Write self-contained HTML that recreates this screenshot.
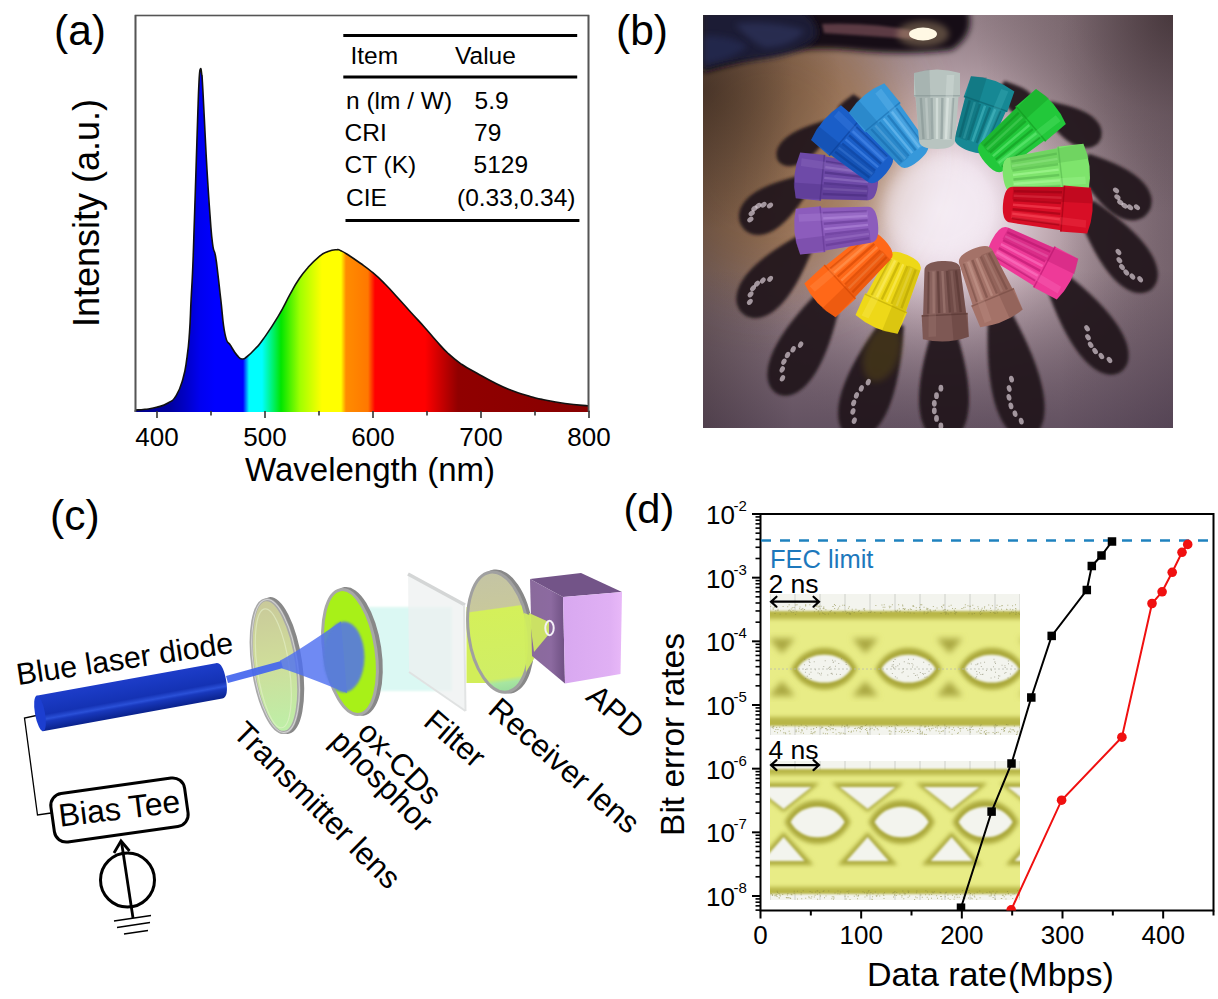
<!DOCTYPE html>
<html><head><meta charset="utf-8"><title>Figure</title>
<style>
html,body{margin:0;padding:0;background:#fff;}
body{width:1218px;height:999px;overflow:hidden;position:relative;font-family:"Liberation Sans",sans-serif;}
svg{position:absolute;left:0;top:0;display:block;}
</style></head><body>
<svg width="1218" height="999" viewBox="0 0 1218 999">

<!-- panel a -->
<defs><linearGradient id="spec" gradientUnits="userSpaceOnUse" x1="135.5" y1="0" x2="588.5" y2="0">
<stop offset="0.0000" stop-color="#00008c"/>
<stop offset="0.0762" stop-color="#0000a0"/>
<stop offset="0.1115" stop-color="#0000c8"/>
<stop offset="0.1424" stop-color="#0000f0"/>
<stop offset="0.1755" stop-color="#0000ff"/>
<stop offset="0.2373" stop-color="#0000ff"/>
<stop offset="0.2506" stop-color="#00ffff"/>
<stop offset="0.2792" stop-color="#00ffff"/>
<stop offset="0.3212" stop-color="#00e600"/>
<stop offset="0.3631" stop-color="#a0ff00"/>
<stop offset="0.4117" stop-color="#ffff00"/>
<stop offset="0.4536" stop-color="#ffff00"/>
<stop offset="0.4647" stop-color="#ff8c00"/>
<stop offset="0.5132" stop-color="#ff7800"/>
<stop offset="0.5287" stop-color="#ff0000"/>
<stop offset="0.6391" stop-color="#ff0000"/>
<stop offset="0.7119" stop-color="#900000"/>
<stop offset="1.0000" stop-color="#880000"/>
</linearGradient></defs>
<rect x="135.5" y="15.5" width="453" height="395.5" fill="none" stroke="#555" stroke-width="1.6"/>
<line x1="134.7" y1="411" x2="589.3" y2="411" stroke="#333" stroke-width="1.8"/>
<path d="M135.6 410 C138.1 409.8 139.4 410 145 409.3 C150.6 408.6 150.4 409 156.5 407.3 C162.6 405.6 162.7 406.2 168 403 C173.3 399.8 172.3 401.7 176.3 395.3 C180.3 388.9 180 389.1 182.9 379 C185.8 368.9 185.2 369.7 187 357.3 C188.8 344.9 188.4 347.9 189.5 332.5 C190.6 317.1 190.2 317.1 191.1 299.5 C192 281.9 191.9 287.7 192.8 266.5 C193.7 245.3 193.5 245.7 194.4 220 C195.3 194.3 195.1 196.7 196 170 C196.9 143.3 196.8 143.5 197.6 120 C198.4 96.5 198.3 95.6 199 82 C199.7 68.4 199.7 70.9 200.4 69 C201.1 67.1 201.3 71.5 201.8 75 C202.3 78.5 201.7 70 202.4 82 C203.1 94 203.2 96.5 204.4 120 C205.6 143.5 205.5 144.7 207 170 C208.5 195.3 208.5 195.3 210 215 C211.5 234.7 211.1 233.1 212.6 244 C214.1 254.9 214.1 247.7 215.5 256 C216.9 264.3 216.6 263.4 218 275 C219.4 286.6 218.9 283.7 220.8 299.5 C222.7 315.3 222.4 321.9 225 334.2 C227.6 346.5 227.4 340 230.7 345.7 C234 351.4 234.2 352.1 237.3 355.6 C240.4 359.1 239.7 358.8 242.3 359 C244.9 359.2 243.8 359.2 247.2 356.5 C250.6 353.8 250.7 353.7 255 349 C259.3 344.3 257.2 347.6 263.3 339 C269.4 330.4 270.9 328.6 278 316.7 C285.1 304.8 284.6 304.2 290 294.4 C295.4 284.6 293.6 287.2 298.4 280 C303.2 272.8 302.4 273.8 308 267.5 C313.6 261.2 314.1 260.6 319.4 256.3 C324.7 252 323.4 253.3 328 251.5 C332.6 249.7 333 249.9 336.5 249.7 C340 249.5 337.9 249.4 341 250.8 C344.1 252.2 343.2 251.7 348.3 255 C353.4 258.3 353.7 258.5 360 263 C366.3 267.5 365.3 266.4 372 272 C378.7 277.6 378 277 385 284 C392 291 391.3 290.7 398.2 298.3 C405.1 305.9 404 304.8 411 312.5 C418 320.2 417.8 319.7 424.5 327.2 C431.2 334.7 429.7 333.5 436 340.5 C442.3 347.5 441.3 347.1 448.2 353.5 C455.1 359.9 454.3 359.2 462 364.5 C469.7 369.8 468.5 368.4 477 373.2 C485.5 378 484.9 377.9 494 382.5 C503.1 387.1 502.4 386.8 511.2 390.3 C520 393.8 518.6 393 527 395.5 C535.4 398 532.6 397.4 542.7 399.5 C552.8 401.6 552.7 401.8 565 403.5 C577.3 405.2 582.4 405.3 588.7 406 L588.7 412 L135.6 412 Z" fill="url(#spec)"/>
<path d="M135.6 410 C138.1 409.8 139.4 410 145 409.3 C150.6 408.6 150.4 409 156.5 407.3 C162.6 405.6 162.7 406.2 168 403 C173.3 399.8 172.3 401.7 176.3 395.3 C180.3 388.9 180 389.1 182.9 379 C185.8 368.9 185.2 369.7 187 357.3 C188.8 344.9 188.4 347.9 189.5 332.5 C190.6 317.1 190.2 317.1 191.1 299.5 C192 281.9 191.9 287.7 192.8 266.5 C193.7 245.3 193.5 245.7 194.4 220 C195.3 194.3 195.1 196.7 196 170 C196.9 143.3 196.8 143.5 197.6 120 C198.4 96.5 198.3 95.6 199 82 C199.7 68.4 199.7 70.9 200.4 69 C201.1 67.1 201.3 71.5 201.8 75 C202.3 78.5 201.7 70 202.4 82 C203.1 94 203.2 96.5 204.4 120 C205.6 143.5 205.5 144.7 207 170 C208.5 195.3 208.5 195.3 210 215 C211.5 234.7 211.1 233.1 212.6 244 C214.1 254.9 214.1 247.7 215.5 256 C216.9 264.3 216.6 263.4 218 275 C219.4 286.6 218.9 283.7 220.8 299.5 C222.7 315.3 222.4 321.9 225 334.2 C227.6 346.5 227.4 340 230.7 345.7 C234 351.4 234.2 352.1 237.3 355.6 C240.4 359.1 239.7 358.8 242.3 359 C244.9 359.2 243.8 359.2 247.2 356.5 C250.6 353.8 250.7 353.7 255 349 C259.3 344.3 257.2 347.6 263.3 339 C269.4 330.4 270.9 328.6 278 316.7 C285.1 304.8 284.6 304.2 290 294.4 C295.4 284.6 293.6 287.2 298.4 280 C303.2 272.8 302.4 273.8 308 267.5 C313.6 261.2 314.1 260.6 319.4 256.3 C324.7 252 323.4 253.3 328 251.5 C332.6 249.7 333 249.9 336.5 249.7 C340 249.5 337.9 249.4 341 250.8 C344.1 252.2 343.2 251.7 348.3 255 C353.4 258.3 353.7 258.5 360 263 C366.3 267.5 365.3 266.4 372 272 C378.7 277.6 378 277 385 284 C392 291 391.3 290.7 398.2 298.3 C405.1 305.9 404 304.8 411 312.5 C418 320.2 417.8 319.7 424.5 327.2 C431.2 334.7 429.7 333.5 436 340.5 C442.3 347.5 441.3 347.1 448.2 353.5 C455.1 359.9 454.3 359.2 462 364.5 C469.7 369.8 468.5 368.4 477 373.2 C485.5 378 484.9 377.9 494 382.5 C503.1 387.1 502.4 386.8 511.2 390.3 C520 393.8 518.6 393 527 395.5 C535.4 398 532.6 397.4 542.7 399.5 C552.8 401.6 552.7 401.8 565 403.5 C577.3 405.2 582.4 405.3 588.7 406" fill="none" stroke="#111" stroke-width="1.6" stroke-linejoin="round"/>
<line x1="588.5" y1="15" x2="588.5" y2="412" stroke="#555" stroke-width="1.6"/>
<line x1="135.5" y1="15" x2="135.5" y2="412" stroke="#555" stroke-width="1.6"/>
<line x1="157" y1="411" x2="157" y2="418" stroke="#333" stroke-width="1.6"/>
<line x1="211" y1="411" x2="211" y2="415.5" stroke="#333" stroke-width="1.6"/>
<line x1="265" y1="411" x2="265" y2="418" stroke="#333" stroke-width="1.6"/>
<line x1="319" y1="411" x2="319" y2="415.5" stroke="#333" stroke-width="1.6"/>
<line x1="373" y1="411" x2="373" y2="418" stroke="#333" stroke-width="1.6"/>
<line x1="427" y1="411" x2="427" y2="415.5" stroke="#333" stroke-width="1.6"/>
<line x1="481" y1="411" x2="481" y2="418" stroke="#333" stroke-width="1.6"/>
<line x1="535" y1="411" x2="535" y2="415.5" stroke="#333" stroke-width="1.6"/>
<line x1="589" y1="411" x2="589" y2="418" stroke="#333" stroke-width="1.6"/>
<text x="157" y="446" font-size="26" text-anchor="middle" font-family="Liberation Sans, sans-serif" fill="#000">400</text>
<text x="265" y="446" font-size="26" text-anchor="middle" font-family="Liberation Sans, sans-serif" fill="#000">500</text>
<text x="373" y="446" font-size="26" text-anchor="middle" font-family="Liberation Sans, sans-serif" fill="#000">600</text>
<text x="481" y="446" font-size="26" text-anchor="middle" font-family="Liberation Sans, sans-serif" fill="#000">700</text>
<text x="589" y="446" font-size="26" text-anchor="middle" font-family="Liberation Sans, sans-serif" fill="#000">800</text>
<text x="245" y="481" font-size="33" font-family="Liberation Sans, sans-serif" fill="#000">Wavelength (nm)</text>
<text transform="translate(99 213) rotate(-90)" font-size="36" text-anchor="middle" font-family="Liberation Sans, sans-serif" fill="#000">Intensity (a.u.)</text>
<text x="54" y="45" font-size="42.5" font-family="Liberation Sans, sans-serif" fill="#000">(a)</text>
<line x1="343.3" y1="35.5" x2="577.2" y2="35.5" stroke="#000" stroke-width="3"/>
<line x1="343.3" y1="77" x2="577.2" y2="77" stroke="#000" stroke-width="3"/>
<line x1="345.5" y1="220.6" x2="579.4" y2="220.6" stroke="#000" stroke-width="3"/>
<text x="350.5" y="64.3" font-size="24.5" font-family="Liberation Sans, sans-serif" fill="#000">Item</text>
<text x="455" y="64.3" font-size="24.5" font-family="Liberation Sans, sans-serif" fill="#000">Value</text>
<text x="346" y="108.7" font-size="24.5" font-family="Liberation Sans, sans-serif" fill="#000">n (lm / W)</text>
<text x="474.5" y="108.7" font-size="24.5" font-family="Liberation Sans, sans-serif" fill="#000">5.9</text>
<text x="344.5" y="140.8" font-size="24.5" font-family="Liberation Sans, sans-serif" fill="#000">CRI</text>
<text x="474" y="140.8" font-size="24.5" font-family="Liberation Sans, sans-serif" fill="#000">79</text>
<text x="344.5" y="173" font-size="24.5" font-family="Liberation Sans, sans-serif" fill="#000">CT (K)</text>
<text x="473.5" y="173" font-size="24.5" font-family="Liberation Sans, sans-serif" fill="#000">5129</text>
<text x="346" y="205.8" font-size="24.5" font-family="Liberation Sans, sans-serif" fill="#000">CIE</text>
<text x="457" y="205.8" font-size="24.5" font-family="Liberation Sans, sans-serif" fill="#000">(0.33,0.34)</text>
<!-- panel b -->
<defs>
<clipPath id="photo"><rect x="703" y="15" width="470" height="413"/></clipPath>
<radialGradient id="plight" gradientUnits="userSpaceOnUse" cx="940" cy="210" r="240">
<stop offset="0" stop-color="#f6eef6" stop-opacity="1"/><stop offset="0.22" stop-color="#ecdee8" stop-opacity="1"/><stop offset="0.45" stop-color="#ccb6be" stop-opacity="0.85"/><stop offset="1" stop-color="#8e7a82" stop-opacity="0"/>
</radialGradient>
<linearGradient id="pleft" gradientUnits="userSpaceOnUse" x1="703" y1="0" x2="793" y2="0">
<stop offset="0" stop-color="#3a2c28" stop-opacity="0.4"/><stop offset="1" stop-color="#3a2c28" stop-opacity="0"/>
</linearGradient>
<radialGradient id="ptl" gradientUnits="userSpaceOnUse" cx="703" cy="90" r="140">
<stop offset="0" stop-color="#2a1c14" stop-opacity="0.55"/><stop offset="1" stop-color="#2a1c14" stop-opacity="0"/>
</radialGradient>
<radialGradient id="pcorner" gradientUnits="userSpaceOnUse" cx="1173" cy="15" r="200">
<stop offset="0" stop-color="#2a1c1e" stop-opacity="0.6"/><stop offset="0.5" stop-color="#2a1c1e" stop-opacity="0.2"/><stop offset="1" stop-color="#2a1c1e" stop-opacity="0"/>
</radialGradient>
<filter id="pb30" x="-50%" y="-50%" width="200%" height="200%"><feGaussianBlur stdDeviation="30"/></filter>
<linearGradient id="pwarm" gradientUnits="userSpaceOnUse" x1="703" y1="0" x2="900" y2="0">
<stop offset="0" stop-color="#8c6434" stop-opacity="0.9"/><stop offset="0.5" stop-color="#a47c4c" stop-opacity="0.55"/><stop offset="1" stop-color="#b08860" stop-opacity="0"/>
</linearGradient>
<linearGradient id="pwarmv" gradientUnits="userSpaceOnUse" x1="0" y1="60" x2="0" y2="428">
<stop offset="0" stop-color="#fff" stop-opacity="1"/><stop offset="0.55" stop-color="#fff" stop-opacity="0.55"/><stop offset="1" stop-color="#fff" stop-opacity="0"/>
</linearGradient>
<mask id="pwarmm"><rect x="703" y="15" width="470" height="413" fill="url(#pwarmv)"/></mask>
<linearGradient id="pcool" gradientUnits="userSpaceOnUse" x1="1060" y1="0" x2="1173" y2="0">
<stop offset="0" stop-color="#3c2c3a" stop-opacity="0"/><stop offset="1" stop-color="#3c2c3a" stop-opacity="0.3"/>
</linearGradient>
<linearGradient id="pbot" gradientUnits="userSpaceOnUse" x1="0" y1="270" x2="0" y2="428">
<stop offset="0" stop-color="#281a34" stop-opacity="0"/><stop offset="1" stop-color="#281a34" stop-opacity="0.42"/>
</linearGradient>
<linearGradient id="ptop" gradientUnits="userSpaceOnUse" x1="0" y1="15" x2="0" y2="130">
<stop offset="0" stop-color="#1e1418" stop-opacity="0.8"/><stop offset="1" stop-color="#1e1418" stop-opacity="0"/>
</linearGradient>
<filter id="pb3" x="-50%" y="-50%" width="200%" height="200%"><feGaussianBlur stdDeviation="3"/></filter>
<filter id="pb2" x="-50%" y="-50%" width="200%" height="200%"><feGaussianBlur stdDeviation="1.6"/></filter>
<filter id="pb8" x="-50%" y="-50%" width="200%" height="200%"><feGaussianBlur stdDeviation="8"/></filter>
<filter id="pb1" x="-50%" y="-50%" width="200%" height="200%"><feGaussianBlur stdDeviation="0.7"/></filter>
</defs>
<g clip-path="url(#photo)">
<rect x="703" y="15" width="470" height="413" fill="#8e7a82"/>
<rect x="703" y="15" width="470" height="413" fill="url(#plight)"/>
<ellipse cx="770" cy="150" rx="135" ry="140" fill="#94683a" opacity="0.7" filter="url(#pb30)"/>
<rect x="703" y="15" width="90" height="413" fill="url(#pleft)"/>
<rect x="703" y="15" width="470" height="413" fill="url(#ptl)"/>
<rect x="1060" y="15" width="113" height="413" fill="url(#pcool)"/>
<rect x="703" y="270" width="470" height="158" fill="url(#pbot)"/>
<rect x="703" y="15" width="470" height="413" fill="url(#pcorner)"/>
<path d="M703 10 L968 10 Q976 34 952 50 Q905 56 850 50 Q800 46 760 56 L703 72 Z" fill="#181012" filter="url(#pb3)"/>
<path d="M703 12 L805 12 Q822 26 815 40 Q795 56 750 60 Q722 64 703 70 Z" fill="#1a1c34" filter="url(#pb3)"/>
<path d="M735 24 Q770 20 805 30 Q795 46 765 48 Q748 40 735 24 Z" fill="#3a4478" opacity="0.4" filter="url(#pb3)"/>
<path d="M703 36 Q728 34 748 46 Q732 60 703 64 Z" fill="#2c3466" opacity="0.45" filter="url(#pb3)"/>
<path d="M822 24 Q870 22 916 31 L914 39 Q870 36 824 33 Z" fill="#7a5058" opacity="0.7" filter="url(#pb2)"/>
<ellipse cx="923" cy="34" rx="26" ry="13" fill="#d8b888" opacity="0.35" filter="url(#pb3)"/>
<ellipse cx="923" cy="34" rx="14" ry="6.5" fill="#fff8e4" filter="url(#pb1)"/>
<g transform="translate(855 100) rotate(33.0)"><path d="M-4.5 -4 C-7.0 3.578058132562969 -10.0 9.54148835350125 -10.0 14.789306947926939 C-10.0 21.468348795377814 -5.0 25.853720883753127 0 25.853720883753127 C5.0 25.853720883753127 10.0 21.468348795377814 10.0 14.789306947926939 C10.0 9.54148835350125 7.0 3.578058132562969 4.5 -4 Z" fill="#22121a" opacity="0.94" filter="url(#pb2)"/></g>
<g transform="translate(1004 88) rotate(-49.8)"><path d="M-5.8500000000000005 -4 C-9.1 5.10881590977792 -13.0 13.623509092741124 -13.0 21.11643909374874 C-13.0 30.652895458667526 -6.5 36.058772731852805 0 36.058772731852805 C6.5 36.058772731852805 13.0 30.652895458667526 13.0 21.11643909374874 C13.0 13.623509092741124 9.1 5.10881590977792 5.8500000000000005 -4 Z" fill="#22121a" opacity="0.94" filter="url(#pb2)"/></g>
<g transform="translate(1050 110) rotate(-58.0)"><path d="M-7.65 -4 C-11.899999999999999 8.490583018850943 -17.0 22.64155471693585 -17.0 35.094409811250564 C-17.0 50.94349811310566 -8.5 58.60388679233962 0 58.60388679233962 C8.5 58.60388679233962 17.0 50.94349811310566 17.0 35.094409811250564 C17.0 22.64155471693585 11.899999999999999 8.490583018850943 7.65 -4 Z" fill="#22121a" opacity="0.94" filter="url(#pb2)"/></g>
<g transform="translate(826 128) rotate(55.2)"><path d="M-6.75 -4 C-10.5 8.40535543567314 -15.0 22.414281161795042 -15.0 34.742135800782314 C-15.0 50.43213261403884 -7.5 58.0357029044876 0 58.0357029044876 C7.5 58.0357029044876 15.0 50.43213261403884 15.0 34.742135800782314 C15.0 22.414281161795042 10.5 8.40535543567314 6.75 -4 Z" fill="#22121a" opacity="0.94" filter="url(#pb2)"/></g>
<g transform="translate(800 186) rotate(54.5)"><path d="M-9.450000000000001 -4 C-14.7 10.322790320451151 -21.0 27.527440854536408 -21.0 42.667533324531426 C-21.0 61.936741922706915 -10.5 70.81860213634101 0 70.81860213634101 C10.5 70.81860213634101 21.0 61.936741922706915 21.0 42.667533324531426 C21.0 27.527440854536408 14.7 10.322790320451151 9.450000000000001 -4 Z" fill="#22121a" opacity="0.94" filter="url(#pb2)"/><ellipse cx="-1.5" cy="35.8" rx="2.4" ry="3.4" fill="#d8ccd4" opacity="0.7"/><ellipse cx="-5.9" cy="40.6" rx="2.4" ry="3.4" fill="#d8ccd4" opacity="0.7"/><ellipse cx="-8.1" cy="45.4" rx="2.4" ry="3.4" fill="#d8ccd4" opacity="0.7"/><ellipse cx="-8.1" cy="50.2" rx="2.4" ry="3.4" fill="#d8ccd4" opacity="0.7"/><ellipse cx="-5.9" cy="55.1" rx="2.4" ry="3.4" fill="#d8ccd4" opacity="0.7"/><ellipse cx="-1.5" cy="59.9" rx="2.4" ry="3.4" fill="#d8ccd4" opacity="0.7"/></g>
<g transform="translate(802 246) rotate(41.3)"><path d="M-10.35 -4 C-16.099999999999998 13.179529581893277 -23.0 35.14541221838208 -23.0 54.475388938492216 C-23.0 79.07717749135966 -11.5 89.86353054595519 0 89.86353054595519 C11.5 89.86353054595519 23.0 79.07717749135966 23.0 54.475388938492216 C23.0 35.14541221838208 16.099999999999998 13.179529581893277 10.35 -4 Z" fill="#22121a" opacity="0.94" filter="url(#pb2)"/><ellipse cx="-2.3" cy="45.7" rx="2.4" ry="3.4" fill="#d8ccd4" opacity="0.7"/><ellipse cx="-6.7" cy="51.8" rx="2.4" ry="3.4" fill="#d8ccd4" opacity="0.7"/><ellipse cx="-8.9" cy="58.0" rx="2.4" ry="3.4" fill="#d8ccd4" opacity="0.7"/><ellipse cx="-8.9" cy="64.1" rx="2.4" ry="3.4" fill="#d8ccd4" opacity="0.7"/><ellipse cx="-6.7" cy="70.3" rx="2.4" ry="3.4" fill="#d8ccd4" opacity="0.7"/><ellipse cx="-2.3" cy="76.4" rx="2.4" ry="3.4" fill="#d8ccd4" opacity="0.7"/></g>
<g transform="translate(830 296) rotate(28.4)"><path d="M-10.8 -4 C-16.799999999999997 16.376812876747415 -24.0 43.67150100465978 -24.0 67.69082655722266 C-24.0 98.2608772604845 -12.0 111.17875251164945 0 111.17875251164945 C12.0 111.17875251164945 24.0 98.2608772604845 24.0 67.69082655722266 C24.0 43.67150100465978 16.799999999999997 16.376812876747415 10.8 -4 Z" fill="#22121a" opacity="0.94" filter="url(#pb2)"/><ellipse cx="-2.7" cy="56.8" rx="2.4" ry="3.4" fill="#d8ccd4" opacity="0.7"/><ellipse cx="-7.1" cy="64.4" rx="2.4" ry="3.4" fill="#d8ccd4" opacity="0.7"/><ellipse cx="-9.3" cy="72.1" rx="2.4" ry="3.4" fill="#d8ccd4" opacity="0.7"/><ellipse cx="-9.3" cy="79.7" rx="2.4" ry="3.4" fill="#d8ccd4" opacity="0.7"/><ellipse cx="-7.1" cy="87.3" rx="2.4" ry="3.4" fill="#d8ccd4" opacity="0.7"/><ellipse cx="-2.7" cy="95.0" rx="2.4" ry="3.4" fill="#d8ccd4" opacity="0.7"/></g>
<g transform="translate(892 326) rotate(20.0)"><path d="M-11.25 -4 C-17.5 17.55704986607944 -25.0 46.8187996428785 -25.0 72.56913944646168 C-25.0 105.34229919647663 -12.5 119.04699910719626 0 119.04699910719626 C12.5 119.04699910719626 25.0 105.34229919647663 25.0 72.56913944646168 C25.0 46.8187996428785 17.5 17.55704986607944 11.25 -4 Z" fill="#22121a" opacity="0.94" filter="url(#pb2)"/><ellipse cx="0" cy="29.261749776799064" rx="17.5" ry="29.261749776799064" fill="#6a5a10" opacity="0.35" filter="url(#pb3)"/><ellipse cx="-3.1" cy="60.9" rx="2.4" ry="3.4" fill="#d8ccd4" opacity="0.7"/><ellipse cx="-7.5" cy="69.1" rx="2.4" ry="3.4" fill="#d8ccd4" opacity="0.7"/><ellipse cx="-9.7" cy="77.3" rx="2.4" ry="3.4" fill="#d8ccd4" opacity="0.7"/><ellipse cx="-9.7" cy="85.4" rx="2.4" ry="3.4" fill="#d8ccd4" opacity="0.7"/><ellipse cx="-7.5" cy="93.6" rx="2.4" ry="3.4" fill="#d8ccd4" opacity="0.7"/><ellipse cx="-3.1" cy="101.8" rx="2.4" ry="3.4" fill="#d8ccd4" opacity="0.7"/></g>
<g transform="translate(944 332) rotate(0.0)"><path d="M-11.25 -4 C-17.5 16.2 -25.0 43.2 -25.0 66.96 C-25.0 97.2 -12.5 110.0 0 110.0 C12.5 110.0 25.0 97.2 25.0 66.96 C25.0 43.2 17.5 16.2 11.25 -4 Z" fill="#22121a" opacity="0.94" filter="url(#pb2)"/><ellipse cx="-3.1" cy="56.2" rx="2.4" ry="3.4" fill="#d8ccd4" opacity="0.7"/><ellipse cx="-7.5" cy="63.7" rx="2.4" ry="3.4" fill="#d8ccd4" opacity="0.7"/><ellipse cx="-9.7" cy="71.3" rx="2.4" ry="3.4" fill="#d8ccd4" opacity="0.7"/><ellipse cx="-9.7" cy="78.8" rx="2.4" ry="3.4" fill="#d8ccd4" opacity="0.7"/><ellipse cx="-7.5" cy="86.4" rx="2.4" ry="3.4" fill="#d8ccd4" opacity="0.7"/><ellipse cx="-3.1" cy="94.0" rx="2.4" ry="3.4" fill="#d8ccd4" opacity="0.7"/></g>
<g transform="translate(1000 316) rotate(-13.1)"><path d="M-11.25 -4 C-17.5 18.483506160899235 -25.0 49.28934976239796 -25.0 76.39849213171684 C-25.0 110.90103696539542 -12.5 125.2233744059949 0 125.2233744059949 C12.5 125.2233744059949 25.0 110.90103696539542 25.0 76.39849213171684 C25.0 49.28934976239796 17.5 18.483506160899235 11.25 -4 Z" fill="#22121a" opacity="0.94" filter="url(#pb2)"/><ellipse cx="-3.1" cy="64.1" rx="2.4" ry="3.4" fill="#d8ccd4" opacity="0.7"/><ellipse cx="-7.5" cy="72.7" rx="2.4" ry="3.4" fill="#d8ccd4" opacity="0.7"/><ellipse cx="-9.7" cy="81.3" rx="2.4" ry="3.4" fill="#d8ccd4" opacity="0.7"/><ellipse cx="-9.7" cy="90.0" rx="2.4" ry="3.4" fill="#d8ccd4" opacity="0.7"/><ellipse cx="-7.5" cy="98.6" rx="2.4" ry="3.4" fill="#d8ccd4" opacity="0.7"/><ellipse cx="-3.1" cy="107.2" rx="2.4" ry="3.4" fill="#d8ccd4" opacity="0.7"/></g>
<g transform="translate(1056 280) rotate(-35.4)"><path d="M-10.8 -4 C-16.799999999999997 16.565325230734228 -24.0 44.17420061529128 -24.0 68.47001095370148 C-24.0 99.39195138440536 -12.0 112.43550153822818 0 112.43550153822818 C12.0 112.43550153822818 24.0 99.39195138440536 24.0 68.47001095370148 C24.0 44.17420061529128 16.799999999999997 16.565325230734228 10.8 -4 Z" fill="#22121a" opacity="0.94" filter="url(#pb2)"/><ellipse cx="-2.7" cy="57.4" rx="2.4" ry="3.4" fill="#d8ccd4" opacity="0.7"/><ellipse cx="-7.1" cy="65.2" rx="2.4" ry="3.4" fill="#d8ccd4" opacity="0.7"/><ellipse cx="-9.3" cy="72.9" rx="2.4" ry="3.4" fill="#d8ccd4" opacity="0.7"/><ellipse cx="-9.3" cy="80.6" rx="2.4" ry="3.4" fill="#d8ccd4" opacity="0.7"/><ellipse cx="-7.1" cy="88.3" rx="2.4" ry="3.4" fill="#d8ccd4" opacity="0.7"/><ellipse cx="-2.7" cy="96.1" rx="2.4" ry="3.4" fill="#d8ccd4" opacity="0.7"/></g>
<g transform="translate(1088 210) rotate(-38.5)"><path d="M-10.35 -4 C-16.099999999999998 14.94590244849738 -23.0 39.85573986265968 -23.0 61.77639678712251 C-23.0 89.67541469098428 -11.5 101.6393496566492 0 101.6393496566492 C11.5 101.6393496566492 23.0 89.67541469098428 23.0 61.77639678712251 C23.0 39.85573986265968 16.099999999999998 14.94590244849738 10.35 -4 Z" fill="#22121a" opacity="0.94" filter="url(#pb2)"/><ellipse cx="-2.3" cy="51.8" rx="2.4" ry="3.4" fill="#d8ccd4" opacity="0.7"/><ellipse cx="-6.7" cy="58.8" rx="2.4" ry="3.4" fill="#d8ccd4" opacity="0.7"/><ellipse cx="-8.9" cy="65.8" rx="2.4" ry="3.4" fill="#d8ccd4" opacity="0.7"/><ellipse cx="-8.9" cy="72.7" rx="2.4" ry="3.4" fill="#d8ccd4" opacity="0.7"/><ellipse cx="-6.7" cy="79.7" rx="2.4" ry="3.4" fill="#d8ccd4" opacity="0.7"/><ellipse cx="-2.3" cy="86.7" rx="2.4" ry="3.4" fill="#d8ccd4" opacity="0.7"/></g>
<g transform="translate(1086 164) rotate(-51.3)"><path d="M-9.9 -4 C-15.399999999999999 11.525623627379128 -22.0 30.734996339677675 -22.0 47.639244326500396 C-22.0 69.15374176427477 -11.0 78.83749084919418 0 78.83749084919418 C11.0 78.83749084919418 22.0 69.15374176427477 22.0 47.639244326500396 C22.0 30.734996339677675 15.399999999999999 11.525623627379128 9.9 -4 Z" fill="#22121a" opacity="0.94" filter="url(#pb2)"/><ellipse cx="-1.9" cy="40.0" rx="2.4" ry="3.4" fill="#d8ccd4" opacity="0.7"/><ellipse cx="-6.3" cy="45.3" rx="2.4" ry="3.4" fill="#d8ccd4" opacity="0.7"/><ellipse cx="-8.5" cy="50.7" rx="2.4" ry="3.4" fill="#d8ccd4" opacity="0.7"/><ellipse cx="-8.5" cy="56.1" rx="2.4" ry="3.4" fill="#d8ccd4" opacity="0.7"/><ellipse cx="-6.3" cy="61.5" rx="2.4" ry="3.4" fill="#d8ccd4" opacity="0.7"/><ellipse cx="-1.9" cy="66.8" rx="2.4" ry="3.4" fill="#d8ccd4" opacity="0.7"/></g>
<ellipse cx="940" cy="208" rx="55" ry="50" fill="#f6eef6" opacity="0.55" filter="url(#pb8)"/>
<g transform="translate(969.5 150) rotate(-160.7)"><path d="M-18.0 8 Q-18.0 -1 0 -1 Q18.0 -1 18.0 8 L21.619999999999997 48.94802243196348 L-21.619999999999997 48.94802243196348 Z" fill="#168894"/><path d="M-13.5 9 L-16.2 46.9" stroke="#0a5a64" stroke-width="2.4" opacity="0.5"/><path d="M-9.0 9 L-10.8 46.9" stroke="#50c0c8" stroke-width="2.4" opacity="0.5"/><path d="M-4.5 9 L-5.4 46.9" stroke="#0a5a64" stroke-width="2.4" opacity="0.5"/><path d="M0.0 9 L0.0 46.9" stroke="#50c0c8" stroke-width="2.4" opacity="0.5"/><path d="M4.5 9 L5.4 46.9" stroke="#0a5a64" stroke-width="2.4" opacity="0.5"/><path d="M9.0 9 L10.8 46.9" stroke="#50c0c8" stroke-width="2.4" opacity="0.5"/><path d="M13.5 9 L16.2 46.9" stroke="#0a5a64" stroke-width="2.4" opacity="0.5"/><path d="M-23.0 47.94802243196348 L23.0 47.94802243196348 L23.0 70.16367035145981 Q0 77.16367035145981 -23.0 70.16367035145981 Z" fill="#168894"/><path d="M-23.0 48.94802243196348 L23.0 48.94802243196348" stroke="#0a5a64" stroke-width="1.5" opacity="0.5"/><path d="M5.3999999999999995 8 L7.566999999999998 74.16367035145981 L23.0 70.16367035145981 L18.0 8 Z" fill="#0a5a64" opacity="0.3"/><path d="M-13.5 8 L-17.296 68.16367035145981 L-9.729 68.16367035145981 L-6.3 8 Z" fill="#50c0c8" opacity="0.25"/></g>
<g transform="translate(986 162) rotate(-130.5)"><path d="M-18.0 8 Q-18.0 -1 0 -1 Q18.0 -1 18.0 8 L21.619999999999997 58.98790384477144 L-21.619999999999997 58.98790384477144 Z" fill="#22c83a"/><path d="M-13.5 9 L-16.2 57.0" stroke="#10901c" stroke-width="2.4" opacity="0.5"/><path d="M-9.0 9 L-10.8 57.0" stroke="#70f080" stroke-width="2.4" opacity="0.5"/><path d="M-4.5 9 L-5.4 57.0" stroke="#10901c" stroke-width="2.4" opacity="0.5"/><path d="M0.0 9 L0.0 57.0" stroke="#70f080" stroke-width="2.4" opacity="0.5"/><path d="M4.5 9 L5.4 57.0" stroke="#10901c" stroke-width="2.4" opacity="0.5"/><path d="M9.0 9 L10.8 57.0" stroke="#70f080" stroke-width="2.4" opacity="0.5"/><path d="M13.5 9 L16.2 57.0" stroke="#10901c" stroke-width="2.4" opacity="0.5"/><path d="M-23.0 57.98790384477144 L23.0 57.98790384477144 L23.0 85.37561188601732 Q0 92.37561188601732 -23.0 85.37561188601732 Z" fill="#22c83a"/><path d="M-23.0 58.98790384477144 L23.0 58.98790384477144" stroke="#10901c" stroke-width="1.5" opacity="0.5"/><path d="M5.3999999999999995 8 L7.566999999999998 89.37561188601732 L23.0 85.37561188601732 L18.0 8 Z" fill="#10901c" opacity="0.3"/><path d="M-13.5 8 L-17.296 83.37561188601732 L-9.729 83.37561188601732 L-6.3 8 Z" fill="#70f080" opacity="0.25"/></g>
<g transform="translate(1004 176) rotate(-96.6)"><path d="M-18.0 8 Q-18.0 -1 0 -1 Q18.0 -1 18.0 8 L21.619999999999997 57.14243256985128 L-21.619999999999997 57.14243256985128 Z" fill="#7ee46c"/><path d="M-13.5 9 L-16.2 55.1" stroke="#50b048" stroke-width="2.4" opacity="0.5"/><path d="M-9.0 9 L-10.8 55.1" stroke="#b0ffa0" stroke-width="2.4" opacity="0.5"/><path d="M-4.5 9 L-5.4 55.1" stroke="#50b048" stroke-width="2.4" opacity="0.5"/><path d="M0.0 9 L0.0 55.1" stroke="#b0ffa0" stroke-width="2.4" opacity="0.5"/><path d="M4.5 9 L5.4 55.1" stroke="#50b048" stroke-width="2.4" opacity="0.5"/><path d="M9.0 9 L10.8 55.1" stroke="#b0ffa0" stroke-width="2.4" opacity="0.5"/><path d="M13.5 9 L16.2 55.1" stroke="#50b048" stroke-width="2.4" opacity="0.5"/><path d="M-23.0 56.14243256985128 L23.0 56.14243256985128 L23.0 82.57944328765345 Q0 89.57944328765345 -23.0 82.57944328765345 Z" fill="#7ee46c"/><path d="M-23.0 57.14243256985128 L23.0 57.14243256985128" stroke="#50b048" stroke-width="1.5" opacity="0.5"/><path d="M5.3999999999999995 8 L7.566999999999998 86.57944328765345 L23.0 82.57944328765345 L18.0 8 Z" fill="#50b048" opacity="0.3"/><path d="M-13.5 8 L-17.296 80.57944328765345 L-9.729 80.57944328765345 L-6.3 8 Z" fill="#b0ffa0" opacity="0.25"/></g>
<g transform="translate(1004 204) rotate(-85.5)"><path d="M-18.0 8 Q-18.0 -1 0 -1 Q18.0 -1 18.0 8 L21.619999999999997 58.9214052785573 L-21.619999999999997 58.9214052785573 Z" fill="#d80e26"/><path d="M-13.5 9 L-16.2 56.9" stroke="#900010" stroke-width="2.4" opacity="0.5"/><path d="M-9.0 9 L-10.8 56.9" stroke="#ff5060" stroke-width="2.4" opacity="0.5"/><path d="M-4.5 9 L-5.4 56.9" stroke="#900010" stroke-width="2.4" opacity="0.5"/><path d="M0.0 9 L0.0 56.9" stroke="#ff5060" stroke-width="2.4" opacity="0.5"/><path d="M4.5 9 L5.4 56.9" stroke="#900010" stroke-width="2.4" opacity="0.5"/><path d="M9.0 9 L10.8 56.9" stroke="#ff5060" stroke-width="2.4" opacity="0.5"/><path d="M13.5 9 L16.2 56.9" stroke="#900010" stroke-width="2.4" opacity="0.5"/><path d="M-23.0 57.9214052785573 L23.0 57.9214052785573 L23.0 85.27485648266257 Q0 92.27485648266257 -23.0 85.27485648266257 Z" fill="#d80e26"/><path d="M-23.0 58.9214052785573 L23.0 58.9214052785573" stroke="#900010" stroke-width="1.5" opacity="0.5"/><path d="M5.3999999999999995 8 L7.566999999999998 89.27485648266257 L23.0 85.27485648266257 L18.0 8 Z" fill="#900010" opacity="0.3"/><path d="M-13.5 8 L-17.296 83.27485648266257 L-9.729 83.27485648266257 L-6.3 8 Z" fill="#ff5060" opacity="0.25"/></g>
<g transform="translate(993 240) rotate(-62.3)"><path d="M-18.0 8 Q-18.0 -1 0 -1 Q18.0 -1 18.0 8 L21.619999999999997 58.15869668415895 L-21.619999999999997 58.15869668415895 Z" fill="#ee3a98"/><path d="M-13.5 9 L-16.2 56.2" stroke="#b01068" stroke-width="2.4" opacity="0.5"/><path d="M-9.0 9 L-10.8 56.2" stroke="#ff80c8" stroke-width="2.4" opacity="0.5"/><path d="M-4.5 9 L-5.4 56.2" stroke="#b01068" stroke-width="2.4" opacity="0.5"/><path d="M0.0 9 L0.0 56.2" stroke="#ff80c8" stroke-width="2.4" opacity="0.5"/><path d="M4.5 9 L5.4 56.2" stroke="#b01068" stroke-width="2.4" opacity="0.5"/><path d="M9.0 9 L10.8 56.2" stroke="#ff80c8" stroke-width="2.4" opacity="0.5"/><path d="M13.5 9 L16.2 56.2" stroke="#b01068" stroke-width="2.4" opacity="0.5"/><path d="M-23.0 57.15869668415895 L23.0 57.15869668415895 L23.0 84.11923740024082 Q0 91.11923740024082 -23.0 84.11923740024082 Z" fill="#ee3a98"/><path d="M-23.0 58.15869668415895 L23.0 58.15869668415895" stroke="#b01068" stroke-width="1.5" opacity="0.5"/><path d="M5.3999999999999995 8 L7.566999999999998 88.11923740024082 L23.0 84.11923740024082 L18.0 8 Z" fill="#b01068" opacity="0.3"/><path d="M-13.5 8 L-17.296 82.11923740024082 L-9.729 82.11923740024082 L-6.3 8 Z" fill="#ff80c8" opacity="0.25"/></g>
<g transform="translate(973 250) rotate(-22.6)"><path d="M-18.0 8 Q-18.0 -1 0 -1 Q18.0 -1 18.0 8 L21.619999999999997 51.480000000000004 L-21.619999999999997 51.480000000000004 Z" fill="#a47268"/><path d="M-13.5 9 L-16.2 49.5" stroke="#70463e" stroke-width="2.4" opacity="0.5"/><path d="M-9.0 9 L-10.8 49.5" stroke="#c89c90" stroke-width="2.4" opacity="0.5"/><path d="M-4.5 9 L-5.4 49.5" stroke="#70463e" stroke-width="2.4" opacity="0.5"/><path d="M0.0 9 L0.0 49.5" stroke="#c89c90" stroke-width="2.4" opacity="0.5"/><path d="M4.5 9 L5.4 49.5" stroke="#70463e" stroke-width="2.4" opacity="0.5"/><path d="M9.0 9 L10.8 49.5" stroke="#c89c90" stroke-width="2.4" opacity="0.5"/><path d="M13.5 9 L16.2 49.5" stroke="#70463e" stroke-width="2.4" opacity="0.5"/><path d="M-23.0 50.480000000000004 L23.0 50.480000000000004 L23.0 74.0 Q0 81.0 -23.0 74.0 Z" fill="#a47268"/><path d="M-23.0 51.480000000000004 L23.0 51.480000000000004" stroke="#70463e" stroke-width="1.5" opacity="0.5"/><path d="M5.3999999999999995 8 L7.566999999999998 78.0 L23.0 74.0 L18.0 8 Z" fill="#70463e" opacity="0.3"/><path d="M-13.5 8 L-17.296 72.0 L-9.729 72.0 L-6.3 8 Z" fill="#c89c90" opacity="0.25"/></g>
<g transform="translate(942 262) rotate(-2.9)"><path d="M-18.0 8 Q-18.0 -1 0 -1 Q18.0 -1 18.0 8 L21.619999999999997 52.86595880148208 L-21.619999999999997 52.86595880148208 Z" fill="#7e5854"/><path d="M-13.5 9 L-16.2 50.9" stroke="#52322e" stroke-width="2.4" opacity="0.5"/><path d="M-9.0 9 L-10.8 50.9" stroke="#aa847c" stroke-width="2.4" opacity="0.5"/><path d="M-4.5 9 L-5.4 50.9" stroke="#52322e" stroke-width="2.4" opacity="0.5"/><path d="M0.0 9 L0.0 50.9" stroke="#aa847c" stroke-width="2.4" opacity="0.5"/><path d="M4.5 9 L5.4 50.9" stroke="#52322e" stroke-width="2.4" opacity="0.5"/><path d="M9.0 9 L10.8 50.9" stroke="#aa847c" stroke-width="2.4" opacity="0.5"/><path d="M13.5 9 L16.2 50.9" stroke="#52322e" stroke-width="2.4" opacity="0.5"/><path d="M-23.0 51.86595880148208 L23.0 51.86595880148208 L23.0 76.09993757800315 Q0 83.09993757800315 -23.0 76.09993757800315 Z" fill="#7e5854"/><path d="M-23.0 52.86595880148208 L23.0 52.86595880148208" stroke="#52322e" stroke-width="1.5" opacity="0.5"/><path d="M5.3999999999999995 8 L7.566999999999998 80.09993757800315 L23.0 76.09993757800315 L18.0 8 Z" fill="#52322e" opacity="0.3"/><path d="M-13.5 8 L-17.296 74.09993757800315 L-9.729 74.09993757800315 L-6.3 8 Z" fill="#aa847c" opacity="0.25"/></g>
<g transform="translate(907 256) rotate(24.0)"><path d="M-18.0 8 Q-18.0 -1 0 -1 Q18.0 -1 18.0 8 L21.619999999999997 52.00196919348343 L-21.619999999999997 52.00196919348343 Z" fill="#eed818"/><path d="M-13.5 9 L-16.2 50.0" stroke="#b09c00" stroke-width="2.4" opacity="0.5"/><path d="M-9.0 9 L-10.8 50.0" stroke="#fff070" stroke-width="2.4" opacity="0.5"/><path d="M-4.5 9 L-5.4 50.0" stroke="#b09c00" stroke-width="2.4" opacity="0.5"/><path d="M0.0 9 L0.0 50.0" stroke="#fff070" stroke-width="2.4" opacity="0.5"/><path d="M4.5 9 L5.4 50.0" stroke="#b09c00" stroke-width="2.4" opacity="0.5"/><path d="M9.0 9 L10.8 50.0" stroke="#fff070" stroke-width="2.4" opacity="0.5"/><path d="M13.5 9 L16.2 50.0" stroke="#b09c00" stroke-width="2.4" opacity="0.5"/><path d="M-23.0 51.00196919348343 L23.0 51.00196919348343 L23.0 74.79086241436883 Q0 81.79086241436883 -23.0 74.79086241436883 Z" fill="#eed818"/><path d="M-23.0 52.00196919348343 L23.0 52.00196919348343" stroke="#b09c00" stroke-width="1.5" opacity="0.5"/><path d="M5.3999999999999995 8 L7.566999999999998 78.79086241436883 L23.0 74.79086241436883 L18.0 8 Z" fill="#b09c00" opacity="0.3"/><path d="M-13.5 8 L-17.296 72.79086241436883 L-9.729 72.79086241436883 L-6.3 8 Z" fill="#fff070" opacity="0.25"/></g>
<g transform="translate(884 241) rotate(47.2)"><path d="M-18.0 8 Q-18.0 -1 0 -1 Q18.0 -1 18.0 8 L21.619999999999997 60.24827632389163 L-21.619999999999997 60.24827632389163 Z" fill="#ff6818"/><path d="M-13.5 9 L-16.2 58.2" stroke="#c84000" stroke-width="2.4" opacity="0.5"/><path d="M-9.0 9 L-10.8 58.2" stroke="#ffa060" stroke-width="2.4" opacity="0.5"/><path d="M-4.5 9 L-5.4 58.2" stroke="#c84000" stroke-width="2.4" opacity="0.5"/><path d="M0.0 9 L0.0 58.2" stroke="#ffa060" stroke-width="2.4" opacity="0.5"/><path d="M4.5 9 L5.4 58.2" stroke="#c84000" stroke-width="2.4" opacity="0.5"/><path d="M9.0 9 L10.8 58.2" stroke="#ffa060" stroke-width="2.4" opacity="0.5"/><path d="M13.5 9 L16.2 58.2" stroke="#c84000" stroke-width="2.4" opacity="0.5"/><path d="M-23.0 59.24827632389163 L23.0 59.24827632389163 L23.0 87.28526715741155 Q0 94.28526715741155 -23.0 87.28526715741155 Z" fill="#ff6818"/><path d="M-23.0 60.24827632389163 L23.0 60.24827632389163" stroke="#c84000" stroke-width="1.5" opacity="0.5"/><path d="M5.3999999999999995 8 L7.566999999999998 91.28526715741155 L23.0 87.28526715741155 L18.0 8 Z" fill="#c84000" opacity="0.3"/><path d="M-13.5 8 L-17.296 85.28526715741155 L-9.729 85.28526715741155 L-6.3 8 Z" fill="#ffa060" opacity="0.25"/></g>
<g transform="translate(877 224) rotate(84.5)"><path d="M-18.0 8 Q-18.0 -1 0 -1 Q18.0 -1 18.0 8 L21.619999999999997 55.033869571383036 L-21.619999999999997 55.033869571383036 Z" fill="#8c5cbc"/><path d="M-13.5 9 L-16.2 53.0" stroke="#603490" stroke-width="2.4" opacity="0.5"/><path d="M-9.0 9 L-10.8 53.0" stroke="#b890e0" stroke-width="2.4" opacity="0.5"/><path d="M-4.5 9 L-5.4 53.0" stroke="#603490" stroke-width="2.4" opacity="0.5"/><path d="M0.0 9 L0.0 53.0" stroke="#b890e0" stroke-width="2.4" opacity="0.5"/><path d="M4.5 9 L5.4 53.0" stroke="#603490" stroke-width="2.4" opacity="0.5"/><path d="M9.0 9 L10.8 53.0" stroke="#b890e0" stroke-width="2.4" opacity="0.5"/><path d="M13.5 9 L16.2 53.0" stroke="#603490" stroke-width="2.4" opacity="0.5"/><path d="M-23.0 54.033869571383036 L23.0 54.033869571383036 L23.0 79.38465086573187 Q0 86.38465086573187 -23.0 79.38465086573187 Z" fill="#8c5cbc"/><path d="M-23.0 55.033869571383036 L23.0 55.033869571383036" stroke="#603490" stroke-width="1.5" opacity="0.5"/><path d="M5.3999999999999995 8 L7.566999999999998 83.38465086573187 L23.0 79.38465086573187 L18.0 8 Z" fill="#603490" opacity="0.3"/><path d="M-13.5 8 L-17.296 77.38465086573187 L-9.729 77.38465086573187 L-6.3 8 Z" fill="#b890e0" opacity="0.25"/></g>
<g transform="translate(877 183) rotate(-264.5)"><path d="M-18.0 8 Q-18.0 -1 0 -1 Q18.0 -1 18.0 8 L21.619999999999997 55.033869571383036 L-21.619999999999997 55.033869571383036 Z" fill="#6e4aa8"/><path d="M-13.5 9 L-16.2 53.0" stroke="#44287a" stroke-width="2.4" opacity="0.5"/><path d="M-9.0 9 L-10.8 53.0" stroke="#9a7cc8" stroke-width="2.4" opacity="0.5"/><path d="M-4.5 9 L-5.4 53.0" stroke="#44287a" stroke-width="2.4" opacity="0.5"/><path d="M0.0 9 L0.0 53.0" stroke="#9a7cc8" stroke-width="2.4" opacity="0.5"/><path d="M4.5 9 L5.4 53.0" stroke="#44287a" stroke-width="2.4" opacity="0.5"/><path d="M9.0 9 L10.8 53.0" stroke="#9a7cc8" stroke-width="2.4" opacity="0.5"/><path d="M13.5 9 L16.2 53.0" stroke="#44287a" stroke-width="2.4" opacity="0.5"/><path d="M-23.0 54.033869571383036 L23.0 54.033869571383036 L23.0 79.38465086573187 Q0 86.38465086573187 -23.0 79.38465086573187 Z" fill="#6e4aa8"/><path d="M-23.0 55.033869571383036 L23.0 55.033869571383036" stroke="#44287a" stroke-width="1.5" opacity="0.5"/><path d="M5.3999999999999995 8 L7.566999999999998 83.38465086573187 L23.0 79.38465086573187 L18.0 8 Z" fill="#44287a" opacity="0.3"/><path d="M-13.5 8 L-17.296 77.38465086573187 L-9.729 77.38465086573187 L-6.3 8 Z" fill="#9a7cc8" opacity="0.25"/></g>
<g transform="translate(885 173) rotate(-229.5)"><path d="M-18.0 8 Q-18.0 -1 0 -1 Q18.0 -1 18.0 8 L21.619999999999997 53.83351001003 L-21.619999999999997 53.83351001003 Z" fill="#1a5ec8"/><path d="M-13.5 9 L-16.2 51.8" stroke="#0a3a90" stroke-width="2.4" opacity="0.5"/><path d="M-9.0 9 L-10.8 51.8" stroke="#5090f0" stroke-width="2.4" opacity="0.5"/><path d="M-4.5 9 L-5.4 51.8" stroke="#0a3a90" stroke-width="2.4" opacity="0.5"/><path d="M0.0 9 L0.0 51.8" stroke="#5090f0" stroke-width="2.4" opacity="0.5"/><path d="M4.5 9 L5.4 51.8" stroke="#0a3a90" stroke-width="2.4" opacity="0.5"/><path d="M9.0 9 L10.8 51.8" stroke="#5090f0" stroke-width="2.4" opacity="0.5"/><path d="M13.5 9 L16.2 51.8" stroke="#0a3a90" stroke-width="2.4" opacity="0.5"/><path d="M-23.0 52.83351001003 L23.0 52.83351001003 L23.0 77.5659242576212 Q0 84.5659242576212 -23.0 77.5659242576212 Z" fill="#1a5ec8"/><path d="M-23.0 53.83351001003 L23.0 53.83351001003" stroke="#0a3a90" stroke-width="1.5" opacity="0.5"/><path d="M5.3999999999999995 8 L7.566999999999998 81.5659242576212 L23.0 77.5659242576212 L18.0 8 Z" fill="#0a3a90" opacity="0.3"/><path d="M-13.5 8 L-17.296 75.5659242576212 L-9.729 75.5659242576212 L-6.3 8 Z" fill="#5090f0" opacity="0.25"/></g>
<g transform="translate(918 160) rotate(-219.7)"><path d="M-18.0 8 Q-18.0 -1 0 -1 Q18.0 -1 18.0 8 L21.619999999999997 55.77292891717271 L-21.619999999999997 55.77292891717271 Z" fill="#3698da"/><path d="M-13.5 9 L-16.2 53.8" stroke="#1466a8" stroke-width="2.4" opacity="0.5"/><path d="M-9.0 9 L-10.8 53.8" stroke="#80c8f8" stroke-width="2.4" opacity="0.5"/><path d="M-4.5 9 L-5.4 53.8" stroke="#1466a8" stroke-width="2.4" opacity="0.5"/><path d="M0.0 9 L0.0 53.8" stroke="#80c8f8" stroke-width="2.4" opacity="0.5"/><path d="M4.5 9 L5.4 53.8" stroke="#1466a8" stroke-width="2.4" opacity="0.5"/><path d="M9.0 9 L10.8 53.8" stroke="#80c8f8" stroke-width="2.4" opacity="0.5"/><path d="M13.5 9 L16.2 53.8" stroke="#1466a8" stroke-width="2.4" opacity="0.5"/><path d="M-23.0 54.77292891717271 L23.0 54.77292891717271 L23.0 80.50443775329198 Q0 87.50443775329198 -23.0 80.50443775329198 Z" fill="#3698da"/><path d="M-23.0 55.77292891717271 L23.0 55.77292891717271" stroke="#1466a8" stroke-width="1.5" opacity="0.5"/><path d="M5.3999999999999995 8 L7.566999999999998 84.50443775329198 L23.0 80.50443775329198 L18.0 8 Z" fill="#1466a8" opacity="0.3"/><path d="M-13.5 8 L-17.296 78.50443775329198 L-9.729 78.50443775329198 L-6.3 8 Z" fill="#80c8f8" opacity="0.25"/></g>
<g transform="translate(937 148) rotate(-180.0)"><path d="M-18.0 8 Q-18.0 -1 0 -1 Q18.0 -1 18.0 8 L21.619999999999997 52.14 L-21.619999999999997 52.14 Z" fill="#b8c4c0"/><path d="M-13.5 9 L-16.2 50.1" stroke="#809090" stroke-width="2.4" opacity="0.5"/><path d="M-9.0 9 L-10.8 50.1" stroke="#e8f0ec" stroke-width="2.4" opacity="0.5"/><path d="M-4.5 9 L-5.4 50.1" stroke="#809090" stroke-width="2.4" opacity="0.5"/><path d="M0.0 9 L0.0 50.1" stroke="#e8f0ec" stroke-width="2.4" opacity="0.5"/><path d="M4.5 9 L5.4 50.1" stroke="#809090" stroke-width="2.4" opacity="0.5"/><path d="M9.0 9 L10.8 50.1" stroke="#e8f0ec" stroke-width="2.4" opacity="0.5"/><path d="M13.5 9 L16.2 50.1" stroke="#809090" stroke-width="2.4" opacity="0.5"/><path d="M-23.0 51.14 L23.0 51.14 L23.0 75.0 Q0 82.0 -23.0 75.0 Z" fill="#b8c4c0"/><path d="M-23.0 52.14 L23.0 52.14" stroke="#809090" stroke-width="1.5" opacity="0.5"/><path d="M5.3999999999999995 8 L7.566999999999998 79.0 L23.0 75.0 L18.0 8 Z" fill="#809090" opacity="0.3"/><path d="M-13.5 8 L-17.296 73.0 L-9.729 73.0 L-6.3 8 Z" fill="#e8f0ec" opacity="0.25"/></g>
</g>
<text x="616" y="45" font-size="42.5" font-family="Liberation Sans, sans-serif" fill="#000">(b)</text>
<!-- panel c -->
<defs>
<linearGradient id="cylg" x1="0" y1="0" x2="0" y2="1">
<stop offset="0" stop-color="#1e3cc8"/><stop offset="0.15" stop-color="#1a3ac4"/><stop offset="0.55" stop-color="#1432b4"/><stop offset="0.68" stop-color="#2a50d8"/><stop offset="0.75" stop-color="#1838bc"/><stop offset="1" stop-color="#0a228c"/>
</linearGradient>
<linearGradient id="tlens" x1="0" y1="0" x2="0" y2="1">
<stop offset="0" stop-color="#c9c99a"/><stop offset="0.45" stop-color="#cfdc9a"/><stop offset="1" stop-color="#bdf0a8"/>
</linearGradient>
<linearGradient id="rlens" x1="0" y1="0" x2="0" y2="1">
<stop offset="0" stop-color="#c4c4a4"/><stop offset="0.3" stop-color="#c8c89c"/><stop offset="0.31" stop-color="#d4f05a"/><stop offset="0.88" stop-color="#d0ee66"/><stop offset="0.92" stop-color="#a8e6a0"/><stop offset="1" stop-color="#98dc9c"/>
</linearGradient>
<linearGradient id="apdl" x1="0" y1="0" x2="1" y2="0">
<stop offset="0" stop-color="#8a6a9c"/><stop offset="0.6" stop-color="#8c6aa0"/><stop offset="1" stop-color="#6e5082"/>
</linearGradient>
<linearGradient id="apdf" x1="0" y1="0" x2="1" y2="0">
<stop offset="0" stop-color="#d8a8f0"/><stop offset="0.8" stop-color="#e0b0f4"/><stop offset="1" stop-color="#e8b8f8"/>
</linearGradient>
<filter id="cb1" x="-30%" y="-30%" width="160%" height="160%"><feGaussianBlur stdDeviation="3"/></filter>
<filter id="cb2" x="-30%" y="-30%" width="160%" height="160%"><feGaussianBlur stdDeviation="1.2"/></filter>
</defs>
<rect x="0" y="560" width="660" height="190" fill="#f8f8f8" opacity="0.0"/>
<polyline points="41,714.5 24.5,718 37.5,815 51,813" fill="none" stroke="#000" stroke-width="1.3"/>
<g transform="rotate(-10.3 39.5 713.5)">
<path d="M39.5 695.5 L222 695.5 Q229 695.5 229 713.5 Q229 731.5 222 731.5 L39.5 731.5 Z" fill="url(#cylg)"/>
<ellipse cx="40" cy="713.5" rx="5" ry="18" fill="#1c3ed0"/>
</g>
<g transform="rotate(-8.2 275.5 666)">
<ellipse cx="279" cy="666" rx="23.5" ry="69" fill="#888"/>
<ellipse cx="275" cy="666" rx="22" ry="67" fill="url(#tlens)" stroke="#a8a8a8" stroke-width="3.2"/>
<ellipse cx="275.5" cy="666" rx="22" ry="67" fill="none" stroke="#e8e8e8" stroke-width="1" opacity="0.7"/>
<ellipse cx="273" cy="668" rx="16" ry="60" fill="none" stroke="#e6f2cc" stroke-width="1.2" opacity="0.6"/>
</g>
<line x1="227" y1="679.5" x2="282" y2="664.5" stroke="#4466ee" stroke-width="7.5" opacity="0.92"/>
<rect x="352" y="607" width="100" height="84" fill="#d8f8f2" opacity="0.9" filter="url(#cb2)"/>
<g transform="rotate(-8.5 350 652)">
<ellipse cx="354" cy="652" rx="27.5" ry="65" fill="#888"/>
<ellipse cx="350" cy="652" rx="26" ry="63" fill="#a8f018" stroke="#a8a8a8" stroke-width="3"/>
</g>
<path d="M280 660.5 Q292 655 341 621.5 L347 693 Q300 674 282 668.5 Z" fill="#4f70f0" opacity="0.82"/>
<ellipse cx="344" cy="657" rx="20.5" ry="35.5" fill="#5a7ed8" opacity="0.95" filter="url(#cb2)"/>
<path d="M408 574 L464 605 L465.5 711 L409 672 Z" fill="#eef0f0" opacity="0.75"/>
<path d="M408 574 L465 605" stroke="#d4d6d6" stroke-width="3.5"/>
<path d="M464 605 L465.5 711" stroke="#e2e4e4" stroke-width="2"/>
<path d="M409 672 L465.5 711" stroke="#e0e2e2" stroke-width="2"/>
<rect x="466.5" y="607" width="45" height="76" fill="#d2ee58"/>
<g transform="rotate(-7.9 499 632)">
<ellipse cx="502.5" cy="632" rx="31" ry="62.5" fill="#888"/>
<ellipse cx="498.5" cy="632" rx="30" ry="60.5" fill="url(#rlens)" stroke="#a0a0a0" stroke-width="3"/>
</g>
<path d="M524 613 L549 622 L549 634 L526 672 Z" fill="#d0ec60" opacity="0.95"/>
<path d="M530 579 L581 573 L622 592 L563 597 Z" fill="#735488"/>
<path d="M530 579 L563 597 L565 683.5 L532 656 Z" fill="url(#apdl)"/>
<path d="M563 597 L622 592 L620.5 674 L565 683.5 Z" fill="url(#apdf)"/>
<path d="M529 613 L549 622 L549 634 L534 652 Z" fill="#d0ec60" opacity="0.92"/>
<ellipse cx="549.5" cy="628" rx="4.2" ry="7.2" fill="none" stroke="#f4f0f8" stroke-width="2"/>
<text transform="translate(18 685) rotate(-8.5)" font-size="30.5" font-family="Liberation Sans, sans-serif" fill="#000">Blue laser diode</text>
<text transform="translate(231.6 734.4) rotate(45)" font-size="31" font-family="Liberation Sans, sans-serif" fill="#000">Transmitter lens</text>
<text transform="translate(355.9 733.7) rotate(45)" font-size="31" font-family="Liberation Sans, sans-serif" fill="#000">ox-CDs</text>
<text transform="translate(328.6 742.8) rotate(45)" font-size="31" font-family="Liberation Sans, sans-serif" fill="#000">phosphor</text>
<text transform="translate(422 724) rotate(41)" font-size="31" font-family="Liberation Sans, sans-serif" fill="#000">Filter</text>
<text transform="translate(486.5 712) rotate(41)" font-size="31" font-family="Liberation Sans, sans-serif" fill="#000">Receiver lens</text>
<text transform="translate(584.5 698.7) rotate(41)" font-size="31" font-family="Liberation Sans, sans-serif" fill="#000">APD</text>
<text x="50" y="529.5" font-size="42.5" font-family="Liberation Sans, sans-serif" fill="#000">(c)</text>
<g transform="rotate(-8 119.5 810)">
<rect x="52" y="785.5" width="135" height="49" rx="12" ry="12" fill="#fff" stroke="#000" stroke-width="3"/>
</g>
<text transform="translate(60 826.8) rotate(-7)" font-size="32" font-family="Liberation Sans, sans-serif" fill="#000">Bias Tee</text>
<circle cx="127.5" cy="880" r="27" fill="none" stroke="#000" stroke-width="3"/>
<path d="M133 918 L121.5 842" stroke="#000" stroke-width="2.8"/>
<path d="M114 853 L121 841 L129.5 851" fill="none" stroke="#000" stroke-width="2.8"/>
<path d="M114 921 L151 915.5 M117 927.5 L150 922.5 M124 934 L148 930.5" stroke="#000" stroke-width="1.6"/>
<!-- panel d -->
<defs>
<filter id="eb" x="-20%" y="-20%" width="140%" height="140%"><feGaussianBlur stdDeviation="2.2"/></filter>
<filter id="eb3" x="-40%" y="-40%" width="180%" height="180%"><feGaussianBlur stdDeviation="3.2"/></filter>
<filter id="eb2" x="-20%" y="-20%" width="140%" height="140%"><feGaussianBlur stdDeviation="1.2"/></filter>
<filter id="noise" x="0" y="0" width="100%" height="100%"><feTurbulence type="fractalNoise" baseFrequency="0.9" numOctaves="1" seed="4"/><feColorMatrix values="0 0 0 0 0.55  0 0 0 0 0.55  0 0 0 0 0.1  0 0 0 -2.2 1.25"/></filter>
<clipPath id="eye1c"><rect x="770" y="594" width="250" height="141"/></clipPath>
<clipPath id="eye2c"><rect x="770" y="761" width="250" height="139"/></clipPath>
<clipPath id="plotd"><rect x="760.5" y="514" width="453.0" height="396.5"/></clipPath>
</defs>
<g clip-path="url(#eye1c)">
<rect x="770" y="594" width="250" height="141" fill="#f3f4ee"/>
<line x1="770" y1="594" x2="770" y2="735" stroke="#c4c8c0" stroke-width="0.8"/>
<line x1="795" y1="594" x2="795" y2="735" stroke="#c4c8c0" stroke-width="0.8"/>
<line x1="820" y1="594" x2="820" y2="735" stroke="#c4c8c0" stroke-width="0.8"/>
<line x1="845" y1="594" x2="845" y2="735" stroke="#c4c8c0" stroke-width="0.8"/>
<line x1="870" y1="594" x2="870" y2="735" stroke="#c4c8c0" stroke-width="0.8"/>
<line x1="895" y1="594" x2="895" y2="735" stroke="#c4c8c0" stroke-width="0.8"/>
<line x1="920" y1="594" x2="920" y2="735" stroke="#c4c8c0" stroke-width="0.8"/>
<line x1="945" y1="594" x2="945" y2="735" stroke="#c4c8c0" stroke-width="0.8"/>
<line x1="970" y1="594" x2="970" y2="735" stroke="#c4c8c0" stroke-width="0.8"/>
<line x1="995" y1="594" x2="995" y2="735" stroke="#c4c8c0" stroke-width="0.8"/>
<line x1="1020" y1="594" x2="1020" y2="735" stroke="#c4c8c0" stroke-width="0.8"/>
<rect x="760" y="611" width="270" height="115" fill="#b8b646" filter="url(#eb2)"/>
<rect x="760" y="619" width="270" height="98" fill="#e8ec86" filter="url(#eb)"/>
<path d="M883.09 609.6h1v1h-1zM1001.05 608.66h1v1h-1zM896.96 609.87h1v1h-1zM816.17 609.12h1v1h-1zM927.47 611.93h1v1h-1zM793.53 607.03h1v1h-1zM792.67 612.1h1v1h-1zM943.36 604.42h1v1h-1zM1015.55 613.65h1v1h-1zM933.48 610.16h1v1h-1zM809.37 604.15h1v1h-1zM902.1 604.6h1v1h-1zM817.55 606.42h1v1h-1zM777.52 608.64h1v1h-1zM880.13 612.42h1v1h-1zM899.78 610.4h1v1h-1zM894.94 610.62h1v1h-1zM884.33 606.78h1v1h-1zM1019.41 613.96h1v1h-1zM980.05 611.08h1v1h-1zM848.82 606.3h1v1h-1zM842.26 604.7h1v1h-1zM961.57 608h1v1h-1zM981.65 607.87h1v1h-1zM1009.51 612.47h1v1h-1zM770.14 606.1h1v1h-1zM997.57 608.7h1v1h-1zM1015.09 607.97h1v1h-1zM788.26 610.29h1v1h-1zM964.63 606.7h1v1h-1zM791.79 607.33h1v1h-1zM1011.02 611.58h1v1h-1zM799.5 606.46h1v1h-1zM795.26 604.6h1v1h-1zM969.26 605.78h1v1h-1zM909.82 608.47h1v1h-1zM817.67 611.32h1v1h-1zM802.74 610.44h1v1h-1zM799.13 608.21h1v1h-1zM823.22 606.7h1v1h-1zM1012.73 612.03h1v1h-1zM846.04 612.85h1v1h-1zM822.68 607.94h1v1h-1zM983.59 610.42h1v1h-1zM795.08 613.89h1v1h-1zM823.31 606.58h1v1h-1zM963.17 607.29h1v1h-1zM844.08 604.73h1v1h-1zM792.53 609.83h1v1h-1zM830.75 610.01h1v1h-1zM862.93 608.53h1v1h-1zM1009.78 608.84h1v1h-1zM913.64 612.67h1v1h-1zM815.71 605.54h1v1h-1zM997.11 612.18h1v1h-1zM832.37 605.9h1v1h-1zM954.86 613.4h1v1h-1zM819.15 613.5h1v1h-1zM990.55 610.04h1v1h-1zM875.36 605.04h1v1h-1zM779.67 613.63h1v1h-1zM829.6 611.05h1v1h-1zM834.25 612.24h1v1h-1zM919.12 606.93h1v1h-1zM813.86 611.2h1v1h-1zM787.19 606.28h1v1h-1zM909.84 612.52h1v1h-1zM923.58 606.8h1v1h-1zM999.34 606.04h1v1h-1zM774.14 606.69h1v1h-1zM881.43 604.6h1v1h-1zM814.06 607.69h1v1h-1zM913.04 605.32h1v1h-1zM860.54 612.91h1v1h-1zM1015.12 610.57h1v1h-1zM942.81 609.84h1v1h-1zM805.09 604.35h1v1h-1zM774.47 613.1h1v1h-1zM945.24 613.63h1v1h-1zM775.31 610.36h1v1h-1zM890.56 611.3h1v1h-1zM849.73 613.99h1v1h-1zM788.82 609.46h1v1h-1zM954.25 613h1v1h-1zM954.27 611.04h1v1h-1zM968.32 613.15h1v1h-1zM857.96 610.85h1v1h-1zM995.21 612.71h1v1h-1zM874.29 611.91h1v1h-1zM985.87 609.73h1v1h-1zM926.24 607.82h1v1h-1zM915.67 610.09h1v1h-1zM790.05 610.39h1v1h-1zM1018.33 612.8h1v1h-1zM952.05 607.88h1v1h-1zM953.76 609.81h1v1h-1zM880.13 612.38h1v1h-1zM790.95 611.5h1v1h-1zM777.45 610.01h1v1h-1zM890.24 606.3h1v1h-1zM944.58 608.97h1v1h-1zM923.63 613.2h1v1h-1zM833.96 604.11h1v1h-1zM845.26 610.78h1v1h-1zM820.64 605.7h1v1h-1zM996.43 610.6h1v1h-1zM880.48 612.92h1v1h-1zM851.74 610.66h1v1h-1zM819.63 608.31h1v1h-1zM971.5 613.14h1v1h-1zM990.07 607.84h1v1h-1zM915.78 607.16h1v1h-1zM804.04 608.96h1v1h-1zM979.27 612.49h1v1h-1zM947.8 613.5h1v1h-1zM839.2 605.69h1v1h-1zM882.66 606.75h1v1h-1zM823.52 608.14h1v1h-1zM926.43 608.94h1v1h-1zM848.84 612.39h1v1h-1zM1015.51 608.52h1v1h-1zM788.67 604.31h1v1h-1zM988.21 604.41h1v1h-1zM947.16 609.71h1v1h-1zM847.26 611.92h1v1h-1zM774.78 605.36h1v1h-1zM883.71 604.25h1v1h-1zM977.42 606.37h1v1h-1zM805.22 604.47h1v1h-1zM927.3 608.46h1v1h-1zM927.49 610.55h1v1h-1zM971.85 613.58h1v1h-1zM941.12 605.99h1v1h-1zM888.79 605.79h1v1h-1zM772.69 608.72h1v1h-1zM948.54 605.79h1v1h-1zM838.09 607.46h1v1h-1zM944.33 609.2h1v1h-1zM923.61 611.56h1v1h-1zM868.38 611.92h1v1h-1zM996.56 604.87h1v1h-1zM1003.15 611.22h1v1h-1zM802.48 608.54h1v1h-1zM926.39 613.1h1v1h-1zM864.2 609.69h1v1h-1zM989.83 611.97h1v1h-1zM1006.06 608.64h1v1h-1zM932.83 606.05h1v1h-1zM950.48 612.18h1v1h-1zM930.4 611.18h1v1h-1zM823.32 613h1v1h-1zM1015.12 613.77h1v1h-1zM904.24 611.91h1v1h-1zM850.1 613.1h1v1h-1zM983.95 607.49h1v1h-1zM790.69 608.41h1v1h-1zM907.58 611.68h1v1h-1zM891.86 604.28h1v1h-1zM972.29 604.64h1v1h-1zM969.96 605.73h1v1h-1zM853.75 611.88h1v1h-1zM805.13 605.49h1v1h-1zM899.13 611.24h1v1h-1zM979.99 610.89h1v1h-1zM1006.44 608.93h1v1h-1zM1007.29 604.86h1v1h-1zM825.35 609.27h1v1h-1zM842.54 611.29h1v1h-1zM929.72 609.23h1v1h-1zM980.91 609.6h1v1h-1zM847.92 607.81h1v1h-1zM981.32 613.01h1v1h-1zM822.06 612.51h1v1h-1zM1012.11 609.24h1v1h-1zM913.25 606.01h1v1h-1zM903.98 609.03h1v1h-1zM921.31 604.28h1v1h-1zM1012.35 609.16h1v1h-1zM870.15 612.01h1v1h-1zM910.72 608.91h1v1h-1zM942.75 604.66h1v1h-1zM904.68 608.14h1v1h-1zM1009.22 613.23h1v1h-1zM837.3 608.73h1v1h-1zM801.74 608.34h1v1h-1zM973.93 613.01h1v1h-1zM889.13 607.17h1v1h-1zM817.86 610.18h1v1h-1zM1001.32 605.29h1v1h-1zM964.82 604.23h1v1h-1zM818.53 606.27h1v1h-1zM941.76 607.22h1v1h-1zM858.84 610.2h1v1h-1zM796.22 611.31h1v1h-1zM800.7 609.1h1v1h-1zM832.64 605.98h1v1h-1zM902.59 608.37h1v1h-1zM863.93 608.13h1v1h-1zM902.34 605.6h1v1h-1zM821.07 610.31h1v1h-1zM929.62 609.3h1v1h-1zM982.81 610.12h1v1h-1zM984.19 606.33h1v1h-1zM955.19 612.11h1v1h-1zM995.67 607.16h1v1h-1zM848.75 613.23h1v1h-1zM824.54 613.98h1v1h-1zM991.89 605.34h1v1h-1zM829.84 611.27h1v1h-1zM834.87 604.97h1v1h-1zM978.04 608.22h1v1h-1zM967.48 605.26h1v1h-1zM870.69 610.85h1v1h-1zM774.44 606.01h1v1h-1zM940.6 613.11h1v1h-1zM1012.09 605.15h1v1h-1zM896.42 611.58h1v1h-1zM895.7 610.86h1v1h-1zM817.25 604.71h1v1h-1zM796.54 604.37h1v1h-1zM907.92 609.15h1v1h-1zM912.19 605.47h1v1h-1zM816.13 606.04h1v1h-1zM980.05 613.9h1v1h-1zM1001.72 604.95h1v1h-1zM785.49 613.51h1v1h-1zM885.52 611.65h1v1h-1zM851.71 608.67h1v1h-1zM898.82 608.3h1v1h-1zM920.23 604.13h1v1h-1zM945.26 612.44h1v1h-1zM815.32 608.54h1v1h-1zM954.83 608.05h1v1h-1zM818.78 605.65h1v1h-1zM898.14 604.15h1v1h-1zM993.3 612.02h1v1h-1zM946.17 612.61h1v1h-1zM927.35 608.05h1v1h-1zM919.9 609.04h1v1h-1zM1015.67 612.05h1v1h-1zM834.57 613.11h1v1h-1zM956.11 611.78h1v1h-1zM973.66 608.06h1v1h-1zM994.14 612.8h1v1h-1zM943.7 611.67h1v1h-1zM961.31 608.06h1v1h-1zM950.66 604.71h1v1h-1zM855.43 608.69h1v1h-1zM772.65 607.56h1v1h-1zM929.68 610.24h1v1h-1zM828.03 613.45h1v1h-1zM936.52 607.38h1v1h-1zM934.94 609.7h1v1h-1zM903.27 607.9h1v1h-1zM1019.97 610.42h1v1h-1zM945.31 611.62h1v1h-1zM1015.02 604.23h1v1h-1zM923.85 611.39h1v1h-1zM834.16 608.02h1v1h-1zM782.61 605.95h1v1h-1z" fill="#8a8a40" opacity="0.6"/>
<path d="M888.64 730.57h1v1h-1zM936.6 725.43h1v1h-1zM772.72 727.75h1v1h-1zM838.51 732.1h1v1h-1zM942.65 730.01h1v1h-1zM909.55 730.61h1v1h-1zM806.33 728.4h1v1h-1zM810.57 733.06h1v1h-1zM784.71 732.19h1v1h-1zM788.65 730.87h1v1h-1zM854.25 728.05h1v1h-1zM980.6 724.19h1v1h-1zM785.2 733.15h1v1h-1zM897.23 724.91h1v1h-1zM1016.78 733.47h1v1h-1zM798.13 728.23h1v1h-1zM803.77 727.13h1v1h-1zM925.36 725.64h1v1h-1zM944.21 724.51h1v1h-1zM812.8 732.16h1v1h-1zM870.13 728.19h1v1h-1zM918.99 728.77h1v1h-1zM866.15 724.3h1v1h-1zM951.58 733.67h1v1h-1zM1014.08 730.64h1v1h-1zM859.09 727.63h1v1h-1zM942.53 730.74h1v1h-1zM798.46 726.35h1v1h-1zM860.83 729.11h1v1h-1zM972.53 729h1v1h-1zM777.04 732.23h1v1h-1zM877.54 729.19h1v1h-1zM825.54 728.27h1v1h-1zM867.06 731.72h1v1h-1zM795.65 729.5h1v1h-1zM814.51 730.96h1v1h-1zM779.21 726.77h1v1h-1zM856.04 730.37h1v1h-1zM783.01 728.59h1v1h-1zM822.2 726.82h1v1h-1zM889.07 733.59h1v1h-1zM890.26 733.56h1v1h-1zM811.89 733.24h1v1h-1zM861.05 725.89h1v1h-1zM957.13 733.12h1v1h-1zM771.67 726.68h1v1h-1zM962.67 727.42h1v1h-1zM830.4 724.09h1v1h-1zM780.01 730.19h1v1h-1zM1015.95 733.98h1v1h-1zM895.9 724.24h1v1h-1zM850.61 731.87h1v1h-1zM977.99 730.39h1v1h-1zM827.38 729.27h1v1h-1zM889.35 730.27h1v1h-1zM835.67 733.47h1v1h-1zM993.58 725.62h1v1h-1zM842.83 732.73h1v1h-1zM839.58 733.44h1v1h-1zM898.79 730.96h1v1h-1zM946.17 726.14h1v1h-1zM841.26 726.55h1v1h-1zM940.82 730.94h1v1h-1zM802.93 732.86h1v1h-1zM875.08 726.41h1v1h-1zM878.82 733.79h1v1h-1zM909.98 730.25h1v1h-1zM999.98 733.62h1v1h-1zM960.11 728.18h1v1h-1zM917.11 733.01h1v1h-1zM967.31 729.8h1v1h-1zM856.87 727.68h1v1h-1zM953.96 729.63h1v1h-1zM774.28 731.1h1v1h-1zM995.95 731.98h1v1h-1zM994.37 733.11h1v1h-1zM903.73 731.89h1v1h-1zM864.87 724.98h1v1h-1zM858.29 727.12h1v1h-1zM1003.51 730.89h1v1h-1zM905.4 730.22h1v1h-1zM801.18 729.34h1v1h-1zM945.15 727.94h1v1h-1zM831.44 728.07h1v1h-1zM850.9 730.85h1v1h-1zM805.45 724.91h1v1h-1zM848.12 730.96h1v1h-1zM959.91 730.59h1v1h-1zM1003.68 727.66h1v1h-1zM777.44 728.88h1v1h-1zM880.92 725.79h1v1h-1zM936.85 727.41h1v1h-1zM829.59 727.27h1v1h-1zM1005.95 724.08h1v1h-1zM860.08 726.8h1v1h-1zM820.33 728.32h1v1h-1zM825.09 733.19h1v1h-1zM895.26 730.98h1v1h-1zM810.59 728.65h1v1h-1zM921.63 732.43h1v1h-1zM832.47 728.6h1v1h-1zM983.7 732.32h1v1h-1zM826.88 729.38h1v1h-1zM960.32 727.95h1v1h-1zM938.35 730.63h1v1h-1zM1013.11 729.54h1v1h-1zM940.2 727.5h1v1h-1zM953.06 727.22h1v1h-1zM894.98 727.61h1v1h-1zM846.8 725.36h1v1h-1zM826.42 729.44h1v1h-1zM832.96 724.46h1v1h-1zM970.9 726.86h1v1h-1zM1004.03 729.99h1v1h-1zM867.27 732.73h1v1h-1zM994.31 727.21h1v1h-1zM801.46 730.41h1v1h-1zM980.67 730.09h1v1h-1zM966.08 728.12h1v1h-1zM924.45 726.63h1v1h-1zM871.73 727.8h1v1h-1zM866.16 728h1v1h-1zM971.8 725.7h1v1h-1zM821.27 726.55h1v1h-1zM1012.76 729.23h1v1h-1zM783.23 732.35h1v1h-1zM988.38 732.21h1v1h-1zM859.7 731.35h1v1h-1zM846.37 725.37h1v1h-1zM986.32 732.33h1v1h-1zM822.8 732.8h1v1h-1zM776.15 727.08h1v1h-1zM773.24 725.71h1v1h-1zM810.81 731.16h1v1h-1zM844.15 725.9h1v1h-1zM816.02 727.12h1v1h-1zM985.54 730.07h1v1h-1zM795.58 730.85h1v1h-1zM904.06 728.48h1v1h-1zM901.89 730.51h1v1h-1zM970.18 729.05h1v1h-1zM928.89 728.67h1v1h-1zM928.52 727.88h1v1h-1zM873.72 729.17h1v1h-1zM948.75 726.79h1v1h-1zM1001.22 728.92h1v1h-1zM983.88 730.9h1v1h-1zM1009.08 730.82h1v1h-1zM876.71 728.06h1v1h-1zM921.92 731.54h1v1h-1zM979.76 725.29h1v1h-1zM785.6 725.08h1v1h-1zM791.06 724.56h1v1h-1zM772.1 726.5h1v1h-1zM798.29 730.85h1v1h-1zM923.95 733.66h1v1h-1zM1010.13 731.47h1v1h-1zM1007.4 724.28h1v1h-1zM826.98 733.26h1v1h-1zM888.86 726.07h1v1h-1zM959.2 728.24h1v1h-1zM905.77 727.16h1v1h-1zM830.43 724.87h1v1h-1zM921.71 733.53h1v1h-1zM1016.68 731.65h1v1h-1zM1003.35 727.62h1v1h-1zM844.54 733.24h1v1h-1zM920.03 730.69h1v1h-1zM773.13 726.29h1v1h-1zM890.61 731.31h1v1h-1zM976.45 731.57h1v1h-1zM854.92 727.82h1v1h-1zM985.59 733.9h1v1h-1zM891.25 725.95h1v1h-1zM926.11 729.36h1v1h-1zM860.42 726.31h1v1h-1zM866.34 730.12h1v1h-1zM801.71 729.41h1v1h-1zM1008.08 731.45h1v1h-1zM833.03 728.18h1v1h-1zM795.58 731.37h1v1h-1zM927.97 725.73h1v1h-1zM907.02 729.96h1v1h-1zM914.3 727.78h1v1h-1zM847.46 727.55h1v1h-1zM1019.39 727.3h1v1h-1zM895.62 728.6h1v1h-1zM813.25 728h1v1h-1zM821.24 727.22h1v1h-1zM861.78 727.5h1v1h-1zM1004.49 726.97h1v1h-1zM853.1 730.58h1v1h-1zM869.31 729.16h1v1h-1zM931.89 724.74h1v1h-1zM937.89 725.01h1v1h-1zM832.56 732.1h1v1h-1zM1017.39 730.74h1v1h-1zM812.9 728.38h1v1h-1zM840.66 732.41h1v1h-1zM828.3 725.96h1v1h-1zM929.52 730.37h1v1h-1zM917.44 728.79h1v1h-1zM1009.77 728.58h1v1h-1zM1004.26 727.92h1v1h-1zM886.34 727.59h1v1h-1zM948.78 731.51h1v1h-1zM829.8 729.26h1v1h-1zM951.62 729.02h1v1h-1zM935.6 730.16h1v1h-1zM948.58 727.55h1v1h-1zM846.64 724.25h1v1h-1zM992.58 731.9h1v1h-1zM867.57 733.67h1v1h-1zM995.61 725.52h1v1h-1zM979.17 728.21h1v1h-1zM848.57 726.59h1v1h-1zM873.45 724.52h1v1h-1zM782.61 725.17h1v1h-1zM846.83 725.58h1v1h-1zM800.46 732.32h1v1h-1zM864.92 728.9h1v1h-1zM920.31 733.33h1v1h-1zM806.53 726.28h1v1h-1zM985.09 733.1h1v1h-1zM1002.95 729.28h1v1h-1zM861.76 725.89h1v1h-1zM997.66 731.65h1v1h-1zM907.91 731.91h1v1h-1zM835.18 729.34h1v1h-1zM996.63 725.09h1v1h-1zM924.34 725.85h1v1h-1zM979.44 732.39h1v1h-1zM931.02 728.36h1v1h-1zM775.38 728.94h1v1h-1zM859.8 728h1v1h-1zM789.42 733.2h1v1h-1zM900.5 729.62h1v1h-1zM980.58 732.96h1v1h-1zM907.42 729.44h1v1h-1zM981.76 727.73h1v1h-1zM995.1 724.24h1v1h-1zM969.03 729.28h1v1h-1zM925.6 733.9h1v1h-1zM824.97 728.07h1v1h-1zM969.9 731.47h1v1h-1zM901.06 731.77h1v1h-1zM939.31 732.69h1v1h-1zM932.54 727.63h1v1h-1zM841.7 724.82h1v1h-1zM800.83 724.43h1v1h-1zM1013.91 725.41h1v1h-1zM920.71 725.34h1v1h-1zM1011.55 729.33h1v1h-1zM814.26 732.27h1v1h-1zM985.03 733.78h1v1h-1zM825.84 728.03h1v1h-1zM935.19 726.83h1v1h-1zM912.33 731.01h1v1h-1zM957.89 732.24h1v1h-1zM957.73 726.85h1v1h-1z" fill="#8a8a40" opacity="0.6"/>
<path d="M769 638.5 L795 638.5 L782 653.5 Z" fill="#a8a640" filter="url(#eb3)"/>
<path d="M769 696 L795 696 L782 681 Z" fill="#a8a640" filter="url(#eb3)"/>
<path d="M852.3 638.5 L878.3 638.5 L865.3 653.5 Z" fill="#a8a640" filter="url(#eb3)"/>
<path d="M852.3 696 L878.3 696 L865.3 681 Z" fill="#a8a640" filter="url(#eb3)"/>
<path d="M936.5 638.5 L962.5 638.5 L949.5 653.5 Z" fill="#a8a640" filter="url(#eb3)"/>
<path d="M936.5 696 L962.5 696 L949.5 681 Z" fill="#a8a640" filter="url(#eb3)"/>
<path d="M1019 638.5 L1045 638.5 L1032 653.5 Z" fill="#a8a640" filter="url(#eb3)"/>
<path d="M1019 696 L1045 696 L1032 681 Z" fill="#a8a640" filter="url(#eb3)"/>
<path d="M791.3 668.7 C804.5 640.98 844.1 640.98 857.3 668.7 C844.1 696.42 804.5 696.42 791.3 668.7 Z" fill="#aaa83a" filter="url(#eb)"/>
<path d="M797.3 668.7 C808.1 650.22 840.5 650.22 851.3 668.7 C840.5 687.18 808.1 687.18 797.3 668.7 Z" fill="#f3f4ee" filter="url(#eb2)"/>
<path d="M830.67 673.1h1v1h-1zM808.81 665.01h1v1h-1zM808.66 658.95h1v1h-1zM839.75 674.05h1v1h-1zM805.21 668.93h1v1h-1zM832.06 659.74h1v1h-1zM835.99 673.83h1v1h-1zM838.26 663.01h1v1h-1zM820.46 674.55h1v1h-1zM817.5 672.48h1v1h-1zM831.82 673.64h1v1h-1zM806.79 675.78h1v1h-1zM814.88 669.19h1v1h-1zM810.56 678h1v1h-1zM808.79 673.82h1v1h-1zM829.62 666.36h1v1h-1zM820.96 672.73h1v1h-1zM832.88 661.39h1v1h-1zM829.17 667.08h1v1h-1zM834.95 665.86h1v1h-1zM809.37 661.95h1v1h-1zM831.3 672.7h1v1h-1zM805.09 677.91h1v1h-1zM840.98 658.35h1v1h-1zM808.72 660.83h1v1h-1zM810.48 671.78h1v1h-1zM828.14 667.82h1v1h-1zM845.61 661.64h1v1h-1zM804.17 658.67h1v1h-1zM803.93 664.33h1v1h-1zM827.25 674.58h1v1h-1zM813.76 661.14h1v1h-1zM824.73 660.23h1v1h-1zM829.48 669.04h1v1h-1zM804.9 671.82h1v1h-1zM845.72 664.02h1v1h-1zM823.24 666.05h1v1h-1zM819.03 673.25h1v1h-1zM832.72 661.92h1v1h-1zM834.65 660.53h1v1h-1z" fill="#8a8a70" opacity="0.6"/>
<path d="M875.5 668.7 C888.7 640.98 928.3 640.98 941.5 668.7 C928.3 696.42 888.7 696.42 875.5 668.7 Z" fill="#aaa83a" filter="url(#eb)"/>
<path d="M881.5 668.7 C892.3 650.22 924.7 650.22 935.5 668.7 C924.7 687.18 892.3 687.18 881.5 668.7 Z" fill="#f3f4ee" filter="url(#eb2)"/>
<path d="M914.95 674.89h1v1h-1zM894.62 658.9h1v1h-1zM928.49 670.8h1v1h-1zM917.94 677.32h1v1h-1zM926.45 676.38h1v1h-1zM893.05 664.32h1v1h-1zM896.63 677.46h1v1h-1zM892.94 666.66h1v1h-1zM903.8 661.2h1v1h-1zM894.86 676.35h1v1h-1zM913.44 672.98h1v1h-1zM899 663.44h1v1h-1zM924.57 673.09h1v1h-1zM916.73 674.4h1v1h-1zM897.29 665.28h1v1h-1zM891.74 664.49h1v1h-1zM893.05 661h1v1h-1zM907.6 675.85h1v1h-1zM908.94 663.25h1v1h-1zM902.74 671.28h1v1h-1zM891.84 673.01h1v1h-1zM922.96 673.63h1v1h-1zM912.86 658.64h1v1h-1zM895.37 666.18h1v1h-1zM902.81 668.16h1v1h-1zM901.55 672.18h1v1h-1zM929.04 659.09h1v1h-1zM893.44 667.83h1v1h-1zM916.61 666.4h1v1h-1zM891.53 666.01h1v1h-1zM912.49 664.57h1v1h-1zM912.06 666.45h1v1h-1zM911.46 663.05h1v1h-1zM923.2 661.77h1v1h-1zM919.83 672h1v1h-1zM928.6 664.13h1v1h-1zM907.52 662.75h1v1h-1zM922.25 672.9h1v1h-1zM908 658.7h1v1h-1zM924.48 676.81h1v1h-1z" fill="#8a8a70" opacity="0.6"/>
<path d="M958.7 668.7 C971.9 640.98 1011.5 640.98 1024.7 668.7 C1011.5 696.42 971.9 696.42 958.7 668.7 Z" fill="#aaa83a" filter="url(#eb)"/>
<path d="M964.7 668.7 C975.5 650.22 1007.9 650.22 1018.7 668.7 C1007.9 687.18 975.5 687.18 964.7 668.7 Z" fill="#f3f4ee" filter="url(#eb2)"/>
<path d="M976.18 671.11h1v1h-1zM982.44 673.74h1v1h-1zM1005.43 671.89h1v1h-1zM1004.68 667.12h1v1h-1zM1011.41 665.5h1v1h-1zM979.02 672.33h1v1h-1zM994.17 676.41h1v1h-1zM994.55 661.61h1v1h-1zM970.82 663.62h1v1h-1zM1008.03 663.27h1v1h-1zM1001.52 664.7h1v1h-1zM995.04 671.74h1v1h-1zM976.1 676.32h1v1h-1zM1004.45 665.17h1v1h-1zM999.24 675.49h1v1h-1zM990.58 677.58h1v1h-1zM995 662.98h1v1h-1zM977.34 663.29h1v1h-1zM997.9 677.8h1v1h-1zM1009.85 673.39h1v1h-1zM998.05 675.21h1v1h-1zM990.88 669.65h1v1h-1zM980.34 673.94h1v1h-1zM976.66 673.8h1v1h-1zM1004.24 672.87h1v1h-1zM970.44 676.5h1v1h-1zM975.19 677.61h1v1h-1zM993.46 658.69h1v1h-1zM975.37 664.14h1v1h-1zM990.73 669.36h1v1h-1zM980.84 666h1v1h-1zM994.11 661.46h1v1h-1zM993.04 666.28h1v1h-1zM1007.56 677.54h1v1h-1zM985.96 670.07h1v1h-1zM1007.85 660.46h1v1h-1zM980.17 662.54h1v1h-1zM976.85 663.75h1v1h-1zM984.06 661.66h1v1h-1zM981.96 673.98h1v1h-1z" fill="#8a8a70" opacity="0.6"/>
<line x1="770" y1="669" x2="1020" y2="669" stroke="#b8bcb0" stroke-width="0.8" stroke-dasharray="2 2"/>
</g>
<g clip-path="url(#eye2c)">
<rect x="770" y="761" width="250" height="139" fill="#f3f4ee"/>
<line x1="770" y1="761" x2="770" y2="900" stroke="#c4c8c0" stroke-width="0.8"/>
<line x1="795" y1="761" x2="795" y2="900" stroke="#c4c8c0" stroke-width="0.8"/>
<line x1="820" y1="761" x2="820" y2="900" stroke="#c4c8c0" stroke-width="0.8"/>
<line x1="845" y1="761" x2="845" y2="900" stroke="#c4c8c0" stroke-width="0.8"/>
<line x1="870" y1="761" x2="870" y2="900" stroke="#c4c8c0" stroke-width="0.8"/>
<line x1="895" y1="761" x2="895" y2="900" stroke="#c4c8c0" stroke-width="0.8"/>
<line x1="920" y1="761" x2="920" y2="900" stroke="#c4c8c0" stroke-width="0.8"/>
<line x1="945" y1="761" x2="945" y2="900" stroke="#c4c8c0" stroke-width="0.8"/>
<line x1="970" y1="761" x2="970" y2="900" stroke="#c4c8c0" stroke-width="0.8"/>
<line x1="995" y1="761" x2="995" y2="900" stroke="#c4c8c0" stroke-width="0.8"/>
<line x1="1020" y1="761" x2="1020" y2="900" stroke="#c4c8c0" stroke-width="0.8"/>
<rect x="760" y="769" width="270" height="125" fill="#b8b646" filter="url(#eb2)"/>
<rect x="760" y="775" width="270" height="112" fill="#e8ec86" filter="url(#eb)"/>
<path d="M811.24 896.21h1v1h-1zM928.75 894.31h1v1h-1zM824 897.13h1v1h-1zM971.96 894.61h1v1h-1zM896.27 892.12h1v1h-1zM770.8 893.34h1v1h-1zM916.34 890.62h1v1h-1zM968.44 892.09h1v1h-1zM828.17 890.38h1v1h-1zM1019.39 896.65h1v1h-1zM988.76 895.54h1v1h-1zM778.52 892.96h1v1h-1zM894.39 891.04h1v1h-1zM1007.99 893.32h1v1h-1zM808.7 897.36h1v1h-1zM801.22 898.35h1v1h-1zM883.28 894.97h1v1h-1zM855.73 894.36h1v1h-1zM816.73 890.33h1v1h-1zM986.47 892.11h1v1h-1zM965.06 891.88h1v1h-1zM1012.19 898.05h1v1h-1zM958.7 896.87h1v1h-1zM915.19 896.57h1v1h-1zM800.62 894.29h1v1h-1zM976.75 891.81h1v1h-1zM1000.79 897.99h1v1h-1zM872.4 893.29h1v1h-1zM882.83 893.47h1v1h-1zM1018.71 893.48h1v1h-1zM776.71 890.84h1v1h-1zM949.52 898.94h1v1h-1zM894 894.42h1v1h-1zM907.61 896.73h1v1h-1zM825.51 895.48h1v1h-1zM909.12 895.6h1v1h-1zM815.17 891.53h1v1h-1zM857.05 898.34h1v1h-1zM856.65 895.38h1v1h-1zM846.65 890.93h1v1h-1zM786.41 897.32h1v1h-1zM964.25 893.37h1v1h-1zM940.84 896.08h1v1h-1zM994.67 898.62h1v1h-1zM871.75 898.9h1v1h-1zM1010.36 895.31h1v1h-1zM990.79 894.42h1v1h-1zM863.89 892.22h1v1h-1zM989.04 891.46h1v1h-1zM787.33 897.25h1v1h-1zM963.48 894.35h1v1h-1zM979.25 890.47h1v1h-1zM834.49 892.61h1v1h-1zM874.89 891.54h1v1h-1zM787.36 893.04h1v1h-1zM994.79 898.85h1v1h-1zM956.46 894.31h1v1h-1zM833.05 898.63h1v1h-1zM901.41 896.56h1v1h-1zM777.07 891.91h1v1h-1zM979.57 897.16h1v1h-1zM990.36 895.41h1v1h-1zM876.52 895.23h1v1h-1zM982.34 892.77h1v1h-1zM903.58 892.48h1v1h-1zM962.06 890.09h1v1h-1zM941.32 898.59h1v1h-1zM775.88 895.34h1v1h-1zM930.96 897.67h1v1h-1zM916.09 892.31h1v1h-1zM871.4 898.63h1v1h-1zM996.4 891.2h1v1h-1zM793.71 890.85h1v1h-1zM776.33 894.02h1v1h-1zM805.21 897.81h1v1h-1zM933.83 891.14h1v1h-1zM904.66 892.92h1v1h-1zM893.47 891.98h1v1h-1zM811.52 891.66h1v1h-1zM864.45 896.39h1v1h-1zM907.51 890.42h1v1h-1zM947.72 897.86h1v1h-1zM963.56 897.12h1v1h-1zM771.96 894.17h1v1h-1zM785.87 896.88h1v1h-1zM813.82 896.4h1v1h-1zM833.23 896.27h1v1h-1zM848.4 890.38h1v1h-1zM867.22 892.78h1v1h-1zM995.19 892.66h1v1h-1zM895.78 894.94h1v1h-1zM1007.05 890.89h1v1h-1zM920.29 894.57h1v1h-1zM953.64 898.7h1v1h-1zM847.54 896.3h1v1h-1zM901.45 895.05h1v1h-1zM785.93 897.33h1v1h-1zM1014.21 893.2h1v1h-1zM849.52 898.94h1v1h-1zM796.9 890.68h1v1h-1zM788.33 897.33h1v1h-1zM959.98 894.03h1v1h-1zM925.35 890.18h1v1h-1zM931.16 893.98h1v1h-1zM899.36 893.5h1v1h-1zM870.38 892.03h1v1h-1zM782.2 893.91h1v1h-1zM831.76 896.34h1v1h-1zM974.32 896.51h1v1h-1zM884 892.13h1v1h-1zM866.35 894.38h1v1h-1zM927.96 898.67h1v1h-1zM791.35 894.32h1v1h-1zM892.97 896.45h1v1h-1zM992.62 897.02h1v1h-1zM926.7 896.83h1v1h-1zM937.01 897.73h1v1h-1zM944.76 896.15h1v1h-1zM831.33 898.25h1v1h-1zM866.49 895.53h1v1h-1zM976.21 898.67h1v1h-1zM1017.3 890.06h1v1h-1zM848.15 892.81h1v1h-1zM867.81 891.31h1v1h-1zM908.31 890.72h1v1h-1zM845.65 898.49h1v1h-1zM955.59 894.16h1v1h-1zM797.05 898.6h1v1h-1zM945.99 891.85h1v1h-1zM853.82 895.77h1v1h-1zM940.41 892.35h1v1h-1zM1007.81 892.9h1v1h-1zM833.56 897.61h1v1h-1zM808.35 896.13h1v1h-1zM819.97 895.38h1v1h-1zM839.35 893.41h1v1h-1zM1005.18 894.2h1v1h-1zM879.22 895.55h1v1h-1zM840.16 891.57h1v1h-1zM866.16 892.45h1v1h-1zM817.11 898.65h1v1h-1zM778.59 897.29h1v1h-1zM1003.69 896.34h1v1h-1zM774.75 894.51h1v1h-1zM779.82 895.47h1v1h-1zM945.1 892.16h1v1h-1zM771.9 894.9h1v1h-1zM793.63 892.78h1v1h-1zM883.53 898.05h1v1h-1zM862.51 891.21h1v1h-1zM967.93 897.4h1v1h-1zM902.35 890.44h1v1h-1zM816.89 893.63h1v1h-1zM907.97 892.03h1v1h-1zM970.59 897.59h1v1h-1zM1001.29 897.95h1v1h-1zM774.4 895.24h1v1h-1zM790.11 898.1h1v1h-1zM956.73 896.83h1v1h-1zM817.07 890.54h1v1h-1zM973.8 895.46h1v1h-1zM925.07 894.24h1v1h-1zM970.03 893.04h1v1h-1zM837.43 893.18h1v1h-1zM844.5 895.64h1v1h-1zM992.54 890.64h1v1h-1zM786.91 894.61h1v1h-1zM939.5 891.71h1v1h-1zM837.46 890.53h1v1h-1zM779.29 894.46h1v1h-1zM940.19 895.88h1v1h-1zM809.55 890.94h1v1h-1zM1002.72 894.85h1v1h-1zM872.1 896.22h1v1h-1zM951.95 894.72h1v1h-1zM789.58 897.45h1v1h-1zM823.43 890.36h1v1h-1zM858.07 894.79h1v1h-1zM927.06 891.57h1v1h-1zM947.41 894.44h1v1h-1zM810.5 897.66h1v1h-1zM971.68 898.16h1v1h-1zM939.87 891.96h1v1h-1zM964.42 898.12h1v1h-1zM903.31 898.18h1v1h-1zM1012.54 893.51h1v1h-1zM1005.46 898.43h1v1h-1zM968.47 890.1h1v1h-1zM857.98 895.52h1v1h-1zM921.8 896.8h1v1h-1zM931.71 891.45h1v1h-1zM1002.7 894.83h1v1h-1zM990.42 891.86h1v1h-1zM1019.52 894.99h1v1h-1zM963.89 896.66h1v1h-1zM990.7 893.26h1v1h-1zM790.7 893.65h1v1h-1zM814.57 894.86h1v1h-1zM973.74 893.26h1v1h-1zM802.76 890.24h1v1h-1zM875.74 895.22h1v1h-1zM776.57 895.99h1v1h-1zM822.72 890.96h1v1h-1zM1001.92 894.71h1v1h-1zM993.77 894.63h1v1h-1zM800.71 892.16h1v1h-1zM876.06 895.77h1v1h-1zM962.72 896.76h1v1h-1zM932.69 892.28h1v1h-1zM877.53 893.4h1v1h-1zM892.39 892.39h1v1h-1zM904.45 894.13h1v1h-1zM778.89 897.41h1v1h-1zM916.61 897.22h1v1h-1zM954.14 896.58h1v1h-1zM1018.36 893.39h1v1h-1zM868.4 890.03h1v1h-1zM936.09 895.23h1v1h-1zM914.11 898.98h1v1h-1zM819.23 892.05h1v1h-1z" fill="#8a8a40" opacity="0.6"/>
<path d="M700.6 822 C713.8 792.96 753.4 792.96 766.6 822 C753.4 851.04 713.8 851.04 700.6 822 Z" fill="#aaa83a" filter="url(#eb)"/>
<path d="M706.6 822 C717.4 801.54 749.8 801.54 760.6 822 C749.8 842.46 717.4 842.46 706.6 822 Z" fill="#f3f4ee" filter="url(#eb2)"/>
<path d="M747.6 783 L819.6 783 L783.6 812 Z" fill="#aaa83a" filter="url(#eb)"/>
<path d="M755.6 787 L811.6 787 L783.6 809 Z" fill="#f3f4ee" filter="url(#eb2)"/>
<path d="M753.6 865 L813.6 865 L783.6 832 Z" fill="#aaa83a" filter="url(#eb)"/>
<path d="M762.6 861 L804.6 861 L783.6 837 Z" fill="#f3f4ee" filter="url(#eb2)"/>
<path d="M784.6 822 C797.8 792.96 837.4 792.96 850.6 822 C837.4 851.04 797.8 851.04 784.6 822 Z" fill="#aaa83a" filter="url(#eb)"/>
<path d="M790.6 822 C801.4 801.54 833.8 801.54 844.6 822 C833.8 842.46 801.4 842.46 790.6 822 Z" fill="#f3f4ee" filter="url(#eb2)"/>
<path d="M831.6 783 L903.6 783 L867.6 812 Z" fill="#aaa83a" filter="url(#eb)"/>
<path d="M839.6 787 L895.6 787 L867.6 809 Z" fill="#f3f4ee" filter="url(#eb2)"/>
<path d="M837.6 865 L897.6 865 L867.6 832 Z" fill="#aaa83a" filter="url(#eb)"/>
<path d="M846.6 861 L888.6 861 L867.6 837 Z" fill="#f3f4ee" filter="url(#eb2)"/>
<path d="M868.6 822 C881.8 792.96 921.4 792.96 934.6 822 C921.4 851.04 881.8 851.04 868.6 822 Z" fill="#aaa83a" filter="url(#eb)"/>
<path d="M874.6 822 C885.4 801.54 917.8 801.54 928.6 822 C917.8 842.46 885.4 842.46 874.6 822 Z" fill="#f3f4ee" filter="url(#eb2)"/>
<path d="M915.6 783 L987.6 783 L951.6 812 Z" fill="#aaa83a" filter="url(#eb)"/>
<path d="M923.6 787 L979.6 787 L951.6 809 Z" fill="#f3f4ee" filter="url(#eb2)"/>
<path d="M921.6 865 L981.6 865 L951.6 832 Z" fill="#aaa83a" filter="url(#eb)"/>
<path d="M930.6 861 L972.6 861 L951.6 837 Z" fill="#f3f4ee" filter="url(#eb2)"/>
<path d="M952.6 822 C965.8 792.96 1005.4 792.96 1018.6 822 C1005.4 851.04 965.8 851.04 952.6 822 Z" fill="#aaa83a" filter="url(#eb)"/>
<path d="M958.6 822 C969.4 801.54 1001.8 801.54 1012.6 822 C1001.8 842.46 969.4 842.46 958.6 822 Z" fill="#f3f4ee" filter="url(#eb2)"/>
<path d="M999.6 783 L1071.6 783 L1035.6 812 Z" fill="#aaa83a" filter="url(#eb)"/>
<path d="M1007.6 787 L1063.6 787 L1035.6 809 Z" fill="#f3f4ee" filter="url(#eb2)"/>
<path d="M1005.6 865 L1065.6 865 L1035.6 832 Z" fill="#aaa83a" filter="url(#eb)"/>
<path d="M1014.6 861 L1056.6 861 L1035.6 837 Z" fill="#f3f4ee" filter="url(#eb2)"/>
</g>
<rect x="760.5" y="514" width="453.0" height="396.5" fill="none" stroke="#000" stroke-width="2"/>
<line x1="761" y1="540.5" x2="1213" y2="540.5" stroke="#1f82bf" stroke-width="2.4" stroke-dasharray="10 9"/>
<text x="770" y="567.5" font-size="25.5" font-family="Liberation Sans, sans-serif" fill="#1c78bc">FEC limit</text>
<line x1="752" y1="896" x2="760.5" y2="896" stroke="#000" stroke-width="2"/>
<line x1="752" y1="832.33" x2="760.5" y2="832.33" stroke="#000" stroke-width="2"/>
<line x1="752" y1="768.67" x2="760.5" y2="768.67" stroke="#000" stroke-width="2"/>
<line x1="752" y1="705" x2="760.5" y2="705" stroke="#000" stroke-width="2"/>
<line x1="752" y1="641.33" x2="760.5" y2="641.33" stroke="#000" stroke-width="2"/>
<line x1="752" y1="577.67" x2="760.5" y2="577.67" stroke="#000" stroke-width="2"/>
<line x1="752" y1="514" x2="760.5" y2="514" stroke="#000" stroke-width="2"/>
<line x1="755.5" y1="910.12" x2="760.5" y2="910.12" stroke="#000" stroke-width="1.6"/>
<line x1="755.5" y1="905.86" x2="760.5" y2="905.86" stroke="#000" stroke-width="1.6"/>
<line x1="755.5" y1="902.17" x2="760.5" y2="902.17" stroke="#000" stroke-width="1.6"/>
<line x1="755.5" y1="898.91" x2="760.5" y2="898.91" stroke="#000" stroke-width="1.6"/>
<line x1="755.5" y1="876.83" x2="760.5" y2="876.83" stroke="#000" stroke-width="1.6"/>
<line x1="755.5" y1="865.62" x2="760.5" y2="865.62" stroke="#000" stroke-width="1.6"/>
<line x1="755.5" y1="857.67" x2="760.5" y2="857.67" stroke="#000" stroke-width="1.6"/>
<line x1="755.5" y1="851.5" x2="760.5" y2="851.5" stroke="#000" stroke-width="1.6"/>
<line x1="755.5" y1="846.46" x2="760.5" y2="846.46" stroke="#000" stroke-width="1.6"/>
<line x1="755.5" y1="842.2" x2="760.5" y2="842.2" stroke="#000" stroke-width="1.6"/>
<line x1="755.5" y1="838.5" x2="760.5" y2="838.5" stroke="#000" stroke-width="1.6"/>
<line x1="755.5" y1="835.25" x2="760.5" y2="835.25" stroke="#000" stroke-width="1.6"/>
<line x1="755.5" y1="813.17" x2="760.5" y2="813.17" stroke="#000" stroke-width="1.6"/>
<line x1="755.5" y1="801.96" x2="760.5" y2="801.96" stroke="#000" stroke-width="1.6"/>
<line x1="755.5" y1="794" x2="760.5" y2="794" stroke="#000" stroke-width="1.6"/>
<line x1="755.5" y1="787.83" x2="760.5" y2="787.83" stroke="#000" stroke-width="1.6"/>
<line x1="755.5" y1="782.79" x2="760.5" y2="782.79" stroke="#000" stroke-width="1.6"/>
<line x1="755.5" y1="778.53" x2="760.5" y2="778.53" stroke="#000" stroke-width="1.6"/>
<line x1="755.5" y1="774.84" x2="760.5" y2="774.84" stroke="#000" stroke-width="1.6"/>
<line x1="755.5" y1="771.58" x2="760.5" y2="771.58" stroke="#000" stroke-width="1.6"/>
<line x1="755.5" y1="749.5" x2="760.5" y2="749.5" stroke="#000" stroke-width="1.6"/>
<line x1="755.5" y1="738.29" x2="760.5" y2="738.29" stroke="#000" stroke-width="1.6"/>
<line x1="755.5" y1="730.34" x2="760.5" y2="730.34" stroke="#000" stroke-width="1.6"/>
<line x1="755.5" y1="724.17" x2="760.5" y2="724.17" stroke="#000" stroke-width="1.6"/>
<line x1="755.5" y1="719.12" x2="760.5" y2="719.12" stroke="#000" stroke-width="1.6"/>
<line x1="755.5" y1="714.86" x2="760.5" y2="714.86" stroke="#000" stroke-width="1.6"/>
<line x1="755.5" y1="711.17" x2="760.5" y2="711.17" stroke="#000" stroke-width="1.6"/>
<line x1="755.5" y1="707.91" x2="760.5" y2="707.91" stroke="#000" stroke-width="1.6"/>
<line x1="755.5" y1="685.83" x2="760.5" y2="685.83" stroke="#000" stroke-width="1.6"/>
<line x1="755.5" y1="674.62" x2="760.5" y2="674.62" stroke="#000" stroke-width="1.6"/>
<line x1="755.5" y1="666.67" x2="760.5" y2="666.67" stroke="#000" stroke-width="1.6"/>
<line x1="755.5" y1="660.5" x2="760.5" y2="660.5" stroke="#000" stroke-width="1.6"/>
<line x1="755.5" y1="655.46" x2="760.5" y2="655.46" stroke="#000" stroke-width="1.6"/>
<line x1="755.5" y1="651.2" x2="760.5" y2="651.2" stroke="#000" stroke-width="1.6"/>
<line x1="755.5" y1="647.5" x2="760.5" y2="647.5" stroke="#000" stroke-width="1.6"/>
<line x1="755.5" y1="644.25" x2="760.5" y2="644.25" stroke="#000" stroke-width="1.6"/>
<line x1="755.5" y1="622.17" x2="760.5" y2="622.17" stroke="#000" stroke-width="1.6"/>
<line x1="755.5" y1="610.96" x2="760.5" y2="610.96" stroke="#000" stroke-width="1.6"/>
<line x1="755.5" y1="603" x2="760.5" y2="603" stroke="#000" stroke-width="1.6"/>
<line x1="755.5" y1="596.83" x2="760.5" y2="596.83" stroke="#000" stroke-width="1.6"/>
<line x1="755.5" y1="591.79" x2="760.5" y2="591.79" stroke="#000" stroke-width="1.6"/>
<line x1="755.5" y1="587.53" x2="760.5" y2="587.53" stroke="#000" stroke-width="1.6"/>
<line x1="755.5" y1="583.84" x2="760.5" y2="583.84" stroke="#000" stroke-width="1.6"/>
<line x1="755.5" y1="580.58" x2="760.5" y2="580.58" stroke="#000" stroke-width="1.6"/>
<line x1="755.5" y1="558.5" x2="760.5" y2="558.5" stroke="#000" stroke-width="1.6"/>
<line x1="755.5" y1="547.29" x2="760.5" y2="547.29" stroke="#000" stroke-width="1.6"/>
<line x1="755.5" y1="539.34" x2="760.5" y2="539.34" stroke="#000" stroke-width="1.6"/>
<line x1="755.5" y1="533.17" x2="760.5" y2="533.17" stroke="#000" stroke-width="1.6"/>
<line x1="755.5" y1="528.12" x2="760.5" y2="528.12" stroke="#000" stroke-width="1.6"/>
<line x1="755.5" y1="523.86" x2="760.5" y2="523.86" stroke="#000" stroke-width="1.6"/>
<line x1="755.5" y1="520.17" x2="760.5" y2="520.17" stroke="#000" stroke-width="1.6"/>
<line x1="755.5" y1="516.91" x2="760.5" y2="516.91" stroke="#000" stroke-width="1.6"/>
<line x1="760.5" y1="910.5" x2="760.5" y2="918.5" stroke="#000" stroke-width="2"/>
<line x1="810.83" y1="910.5" x2="810.83" y2="915.5" stroke="#000" stroke-width="2"/>
<line x1="861.17" y1="910.5" x2="861.17" y2="918.5" stroke="#000" stroke-width="2"/>
<line x1="911.5" y1="910.5" x2="911.5" y2="915.5" stroke="#000" stroke-width="2"/>
<line x1="961.83" y1="910.5" x2="961.83" y2="918.5" stroke="#000" stroke-width="2"/>
<line x1="1012.17" y1="910.5" x2="1012.17" y2="915.5" stroke="#000" stroke-width="2"/>
<line x1="1062.5" y1="910.5" x2="1062.5" y2="918.5" stroke="#000" stroke-width="2"/>
<line x1="1112.83" y1="910.5" x2="1112.83" y2="915.5" stroke="#000" stroke-width="2"/>
<line x1="1163.17" y1="910.5" x2="1163.17" y2="918.5" stroke="#000" stroke-width="2"/>
<line x1="1213.5" y1="910.5" x2="1213.5" y2="915.5" stroke="#000" stroke-width="2"/>
<text x="760.5" y="944" font-size="26" text-anchor="middle" font-family="Liberation Sans, sans-serif" fill="#000">0</text>
<text x="861.17" y="944" font-size="26" text-anchor="middle" font-family="Liberation Sans, sans-serif" fill="#000">100</text>
<text x="961.83" y="944" font-size="26" text-anchor="middle" font-family="Liberation Sans, sans-serif" fill="#000">200</text>
<text x="1062.5" y="944" font-size="26" text-anchor="middle" font-family="Liberation Sans, sans-serif" fill="#000">300</text>
<text x="1163.17" y="944" font-size="26" text-anchor="middle" font-family="Liberation Sans, sans-serif" fill="#000">400</text>
<text x="706" y="906" font-size="26" font-family="Liberation Sans, sans-serif" fill="#000">10</text>
<text x="733.5" y="893" font-size="15" font-family="Liberation Sans, sans-serif" fill="#000">-8</text>
<text x="706" y="842.33" font-size="26" font-family="Liberation Sans, sans-serif" fill="#000">10</text>
<text x="733.5" y="829.33" font-size="15" font-family="Liberation Sans, sans-serif" fill="#000">-7</text>
<text x="706" y="778.67" font-size="26" font-family="Liberation Sans, sans-serif" fill="#000">10</text>
<text x="733.5" y="765.67" font-size="15" font-family="Liberation Sans, sans-serif" fill="#000">-6</text>
<text x="706" y="715" font-size="26" font-family="Liberation Sans, sans-serif" fill="#000">10</text>
<text x="733.5" y="702" font-size="15" font-family="Liberation Sans, sans-serif" fill="#000">-5</text>
<text x="706" y="651.33" font-size="26" font-family="Liberation Sans, sans-serif" fill="#000">10</text>
<text x="733.5" y="638.33" font-size="15" font-family="Liberation Sans, sans-serif" fill="#000">-4</text>
<text x="706" y="587.67" font-size="26" font-family="Liberation Sans, sans-serif" fill="#000">10</text>
<text x="733.5" y="574.67" font-size="15" font-family="Liberation Sans, sans-serif" fill="#000">-3</text>
<text x="706" y="524" font-size="26" font-family="Liberation Sans, sans-serif" fill="#000">10</text>
<text x="733.5" y="511" font-size="15" font-family="Liberation Sans, sans-serif" fill="#000">-2</text>
<text x="867" y="986" font-size="34" font-family="Liberation Sans, sans-serif" fill="#000">Data rate</text>
<text x="1008" y="986" font-size="34" font-family="Liberation Sans, sans-serif" fill="#000">(Mbps)</text>
<text transform="translate(684 734.5) rotate(-90)" font-size="33.5" text-anchor="middle" font-family="Liberation Sans, sans-serif" fill="#000">Bit error rates</text>
<text x="623.5" y="523" font-size="41.5" font-family="Liberation Sans, sans-serif" fill="#000">(d)</text>
<text x="768.5" y="593" font-size="26.5" font-family="Liberation Sans, sans-serif" fill="#000">2 ns</text>
<text x="768.5" y="758.5" font-size="26.5" font-family="Liberation Sans, sans-serif" fill="#000">4 ns</text>
<path d="M772 601.7 L818 601.7 M776.5 596.7 L771 601.7 L776.5 606.7 M813.5 596.7 L819 601.7 L813.5 606.7" fill="none" stroke="#000" stroke-width="2.2" stroke-linecap="round"/>
<path d="M772 765.1 L818 765.1 M776.5 760.1 L771 765.1 L776.5 770.1 M813.5 760.1 L819 765.1 L813.5 770.1" fill="none" stroke="#000" stroke-width="2.2" stroke-linecap="round"/>
<g clip-path="url(#plotd)">
<polyline points="961,907.7 991.6,811.6 1011.5,763.5 1031.3,697.5 1051.7,635.9 1086.8,590 1091.8,566 1101.5,555.5 1112,541.5" fill="none" stroke="#000" stroke-width="2"/>
<polyline points="1011.2,909.8 1061.6,800.2 1121.9,737.2 1152,603.5 1162.1,591.8 1172.2,572.3 1182,552.3 1187.7,544.4" fill="none" stroke="#f01010" stroke-width="2"/>
<rect x="956.75" y="903.45" width="8.5" height="8.5" fill="#000"/>
<rect x="987.35" y="807.35" width="8.5" height="8.5" fill="#000"/>
<rect x="1007.25" y="759.25" width="8.5" height="8.5" fill="#000"/>
<rect x="1027.05" y="693.25" width="8.5" height="8.5" fill="#000"/>
<rect x="1047.45" y="631.65" width="8.5" height="8.5" fill="#000"/>
<rect x="1082.55" y="585.75" width="8.5" height="8.5" fill="#000"/>
<rect x="1087.55" y="561.75" width="8.5" height="8.5" fill="#000"/>
<rect x="1097.25" y="551.25" width="8.5" height="8.5" fill="#000"/>
<rect x="1107.75" y="537.25" width="8.5" height="8.5" fill="#000"/>
<circle cx="1011.2" cy="909.8" r="4.8" fill="#f01010"/>
<circle cx="1061.6" cy="800.2" r="4.8" fill="#f01010"/>
<circle cx="1121.9" cy="737.2" r="4.8" fill="#f01010"/>
<circle cx="1152" cy="603.5" r="4.8" fill="#f01010"/>
<circle cx="1162.1" cy="591.8" r="4.8" fill="#f01010"/>
<circle cx="1172.2" cy="572.3" r="4.8" fill="#f01010"/>
<circle cx="1182" cy="552.3" r="4.8" fill="#f01010"/>
<circle cx="1187.7" cy="544.4" r="4.8" fill="#f01010"/>
</g>
</svg>
</body></html>
